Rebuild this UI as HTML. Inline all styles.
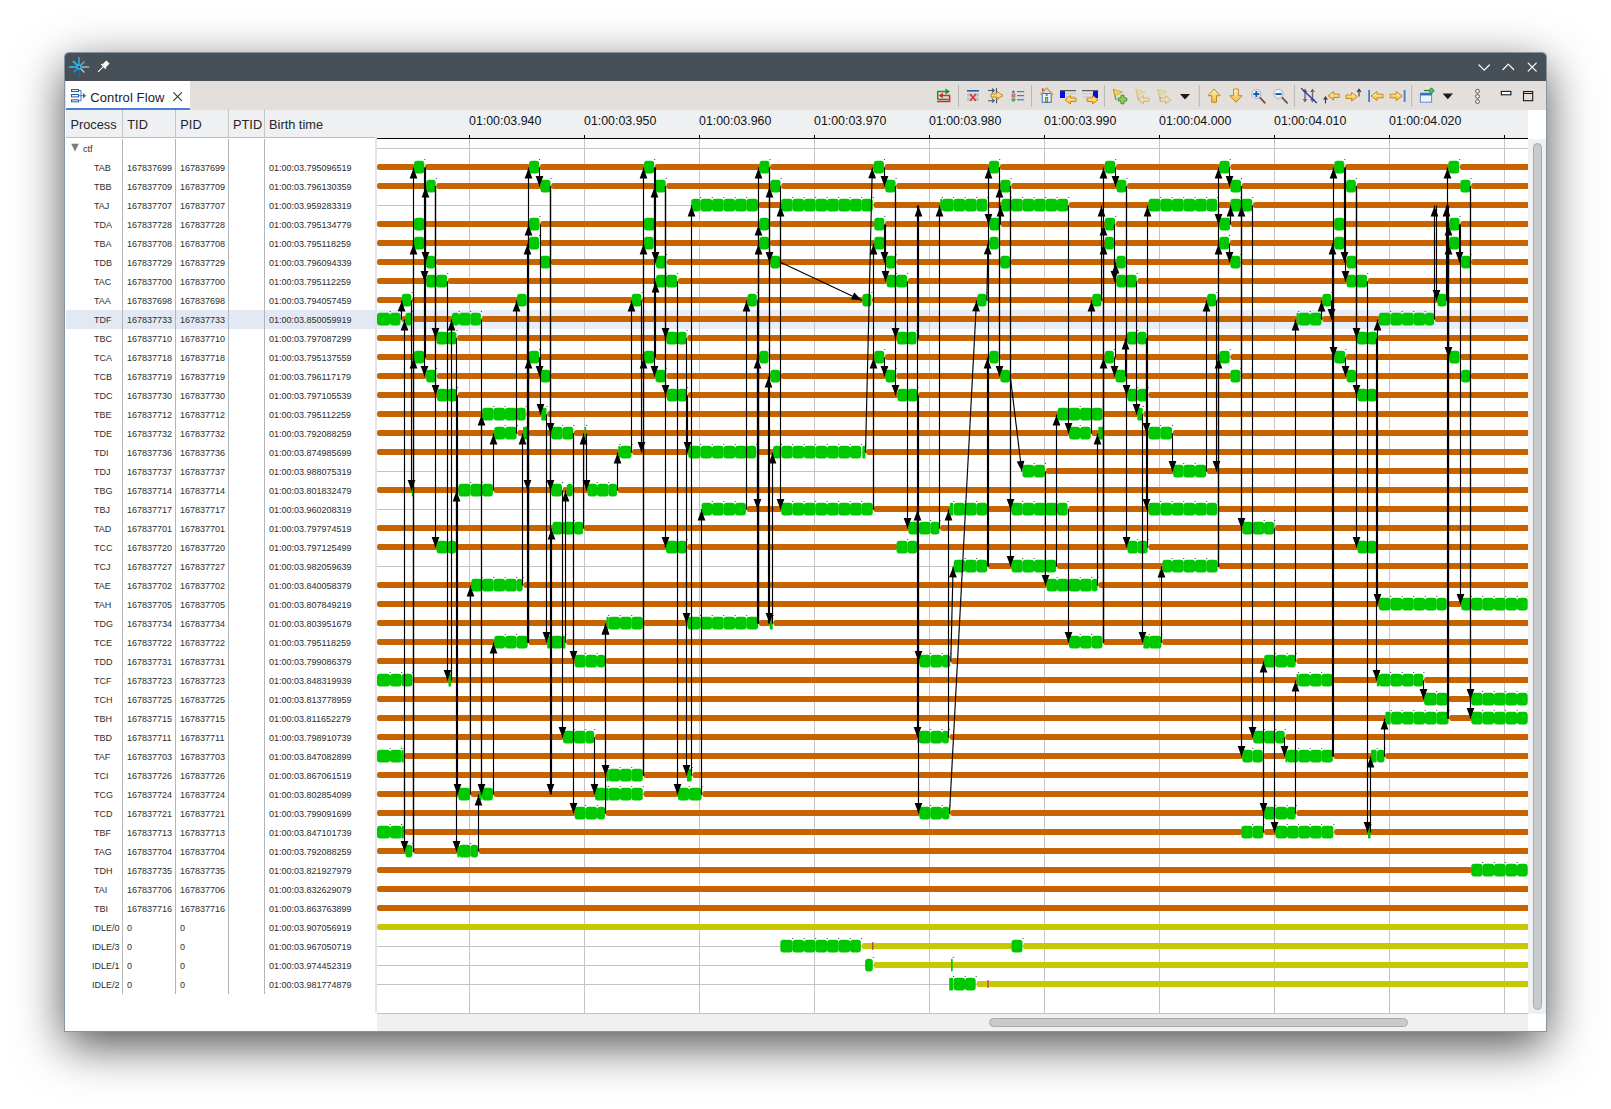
<!DOCTYPE html><html><head><meta charset="utf-8"><title>Control Flow</title><style>
*{box-sizing:border-box;margin:0;padding:0}
html,body{width:1611px;height:1109px;background:#fff;overflow:hidden;font-family:"Liberation Sans",sans-serif;}
#win{position:absolute;left:65px;top:53px;width:1481px;height:978px;background:#fff;border-radius:4px 4px 0 0;
 box-shadow:0 0 0 1px #8593a2,0 14px 48px 0 rgba(0,0,0,.7);}
#title{position:absolute;left:0;top:0;width:1481px;height:28px;background:#475057;border-radius:4px 4px 0 0}
#tabbar{position:absolute;left:0;top:28px;width:1481px;height:29px;background:#e2dfdc}
#tab{position:absolute;left:1px;top:0;width:124px;height:29px;background:#fff;border-bottom:2px solid #4a7fd8}
#tab span{position:absolute;left:24.3px;top:9px;font-size:13px;color:#202428;letter-spacing:0.1px}
#hdr{position:absolute;left:1px;top:57px;width:1462px;height:28px;background:#eff0f1;}
#hdrline{position:absolute;left:1px;top:84px;width:310px;height:1px;background:#bcbdbe}
.hc{position:absolute;top:7px;font-size:12.8px;color:#232629}
.hs{position:absolute;top:0;width:1px;height:28px;background:#c4c5c6}
.ts{position:absolute;top:3px;font-size:12.4px;color:#111}
.cs{position:absolute;top:86px;width:1px;height:855px;background:#b4b5b6}
.r{position:absolute;left:1px;width:309px;height:19px;font-size:9px;line-height:19px;color:#2a2d30;white-space:nowrap}
.r span{position:absolute;top:0px}
#sash{position:absolute;left:309.5px;top:84px;width:2.5px;height:876px;background:#e4e4e4}
#chart{position:absolute;left:0;top:0}
</style></head><body>
<div id="win">
<div id="title"></div>
<div id="tabbar"><div id="tab"><span>Control Flow</span></div></div>
<div id="hdr">
<span class="hc" style="left:4.4px">Process</span>
<span class="hc" style="left:61.3px">TID</span>
<span class="hc" style="left:114.3px">PID</span>
<span class="hc" style="left:167px">PTID</span>
<span class="hc" style="left:203px">Birth time</span>
<i class="hs" style="left:56px"></i>
<i class="hs" style="left:109px"></i>
<i class="hs" style="left:162px"></i>
<i class="hs" style="left:198px"></i>
</div><div id="hdrline"></div>
<div style="position:absolute;left:1px;top:257px;width:309px;height:19px;background:#e3e9f4"></div>
<i class="cs" style="left:57px"></i>
<i class="cs" style="left:110px"></i>
<i class="cs" style="left:163px"></i>
<i class="cs" style="left:199px"></i>
<div class="r" style="top:87.3px"><span style="left:17px">ctf</span></div>
<div class="r" style="top:105.5px"><span style="left:28px">TAB</span><span style="left:61px">167837699</span><span style="left:114px">167837699</span><span style="left:203px">01:00:03.795096519</span></div>
<div class="r" style="top:124.5px"><span style="left:28px">TBB</span><span style="left:61px">167837709</span><span style="left:114px">167837709</span><span style="left:203px">01:00:03.796130359</span></div>
<div class="r" style="top:143.5px"><span style="left:28px">TAJ</span><span style="left:61px">167837707</span><span style="left:114px">167837707</span><span style="left:203px">01:00:03.959283319</span></div>
<div class="r" style="top:162.5px"><span style="left:28px">TDA</span><span style="left:61px">167837728</span><span style="left:114px">167837728</span><span style="left:203px">01:00:03.795134779</span></div>
<div class="r" style="top:181.5px"><span style="left:28px">TBA</span><span style="left:61px">167837708</span><span style="left:114px">167837708</span><span style="left:203px">01:00:03.795118259</span></div>
<div class="r" style="top:200.5px"><span style="left:28px">TDB</span><span style="left:61px">167837729</span><span style="left:114px">167837729</span><span style="left:203px">01:00:03.796094339</span></div>
<div class="r" style="top:219.5px"><span style="left:28px">TAC</span><span style="left:61px">167837700</span><span style="left:114px">167837700</span><span style="left:203px">01:00:03.795112259</span></div>
<div class="r" style="top:238.5px"><span style="left:28px">TAA</span><span style="left:61px">167837698</span><span style="left:114px">167837698</span><span style="left:203px">01:00:03.794057459</span></div>
<div class="r" style="top:257.5px"><span style="left:28px">TDF</span><span style="left:61px">167837733</span><span style="left:114px">167837733</span><span style="left:203px">01:00:03.850059919</span></div>
<div class="r" style="top:276.5px"><span style="left:28px">TBC</span><span style="left:61px">167837710</span><span style="left:114px">167837710</span><span style="left:203px">01:00:03.797087299</span></div>
<div class="r" style="top:295.5px"><span style="left:28px">TCA</span><span style="left:61px">167837718</span><span style="left:114px">167837718</span><span style="left:203px">01:00:03.795137559</span></div>
<div class="r" style="top:314.5px"><span style="left:28px">TCB</span><span style="left:61px">167837719</span><span style="left:114px">167837719</span><span style="left:203px">01:00:03.796117179</span></div>
<div class="r" style="top:333.5px"><span style="left:28px">TDC</span><span style="left:61px">167837730</span><span style="left:114px">167837730</span><span style="left:203px">01:00:03.797105539</span></div>
<div class="r" style="top:352.5px"><span style="left:28px">TBE</span><span style="left:61px">167837712</span><span style="left:114px">167837712</span><span style="left:203px">01:00:03.795112259</span></div>
<div class="r" style="top:371.5px"><span style="left:28px">TDE</span><span style="left:61px">167837732</span><span style="left:114px">167837732</span><span style="left:203px">01:00:03.792088259</span></div>
<div class="r" style="top:390.5px"><span style="left:28px">TDI</span><span style="left:61px">167837736</span><span style="left:114px">167837736</span><span style="left:203px">01:00:03.874985699</span></div>
<div class="r" style="top:409.5px"><span style="left:28px">TDJ</span><span style="left:61px">167837737</span><span style="left:114px">167837737</span><span style="left:203px">01:00:03.988075319</span></div>
<div class="r" style="top:428.5px"><span style="left:28px">TBG</span><span style="left:61px">167837714</span><span style="left:114px">167837714</span><span style="left:203px">01:00:03.801832479</span></div>
<div class="r" style="top:447.5px"><span style="left:28px">TBJ</span><span style="left:61px">167837717</span><span style="left:114px">167837717</span><span style="left:203px">01:00:03.960208319</span></div>
<div class="r" style="top:466.5px"><span style="left:28px">TAD</span><span style="left:61px">167837701</span><span style="left:114px">167837701</span><span style="left:203px">01:00:03.797974519</span></div>
<div class="r" style="top:485.5px"><span style="left:28px">TCC</span><span style="left:61px">167837720</span><span style="left:114px">167837720</span><span style="left:203px">01:00:03.797125499</span></div>
<div class="r" style="top:504.5px"><span style="left:28px">TCJ</span><span style="left:61px">167837727</span><span style="left:114px">167837727</span><span style="left:203px">01:00:03.982059639</span></div>
<div class="r" style="top:523.5px"><span style="left:28px">TAE</span><span style="left:61px">167837702</span><span style="left:114px">167837702</span><span style="left:203px">01:00:03.840058379</span></div>
<div class="r" style="top:542.5px"><span style="left:28px">TAH</span><span style="left:61px">167837705</span><span style="left:114px">167837705</span><span style="left:203px">01:00:03.807849219</span></div>
<div class="r" style="top:561.5px"><span style="left:28px">TDG</span><span style="left:61px">167837734</span><span style="left:114px">167837734</span><span style="left:203px">01:00:03.803951679</span></div>
<div class="r" style="top:580.5px"><span style="left:28px">TCE</span><span style="left:61px">167837722</span><span style="left:114px">167837722</span><span style="left:203px">01:00:03.795118259</span></div>
<div class="r" style="top:599.5px"><span style="left:28px">TDD</span><span style="left:61px">167837731</span><span style="left:114px">167837731</span><span style="left:203px">01:00:03.799086379</span></div>
<div class="r" style="top:618.5px"><span style="left:28px">TCF</span><span style="left:61px">167837723</span><span style="left:114px">167837723</span><span style="left:203px">01:00:03.848319939</span></div>
<div class="r" style="top:637.5px"><span style="left:28px">TCH</span><span style="left:61px">167837725</span><span style="left:114px">167837725</span><span style="left:203px">01:00:03.813778959</span></div>
<div class="r" style="top:656.5px"><span style="left:28px">TBH</span><span style="left:61px">167837715</span><span style="left:114px">167837715</span><span style="left:203px">01:00:03.811652279</span></div>
<div class="r" style="top:675.5px"><span style="left:28px">TBD</span><span style="left:61px">167837711</span><span style="left:114px">167837711</span><span style="left:203px">01:00:03.798910739</span></div>
<div class="r" style="top:694.5px"><span style="left:28px">TAF</span><span style="left:61px">167837703</span><span style="left:114px">167837703</span><span style="left:203px">01:00:03.847082899</span></div>
<div class="r" style="top:713.5px"><span style="left:28px">TCI</span><span style="left:61px">167837726</span><span style="left:114px">167837726</span><span style="left:203px">01:00:03.867061519</span></div>
<div class="r" style="top:732.5px"><span style="left:28px">TCG</span><span style="left:61px">167837724</span><span style="left:114px">167837724</span><span style="left:203px">01:00:03.802854099</span></div>
<div class="r" style="top:751.5px"><span style="left:28px">TCD</span><span style="left:61px">167837721</span><span style="left:114px">167837721</span><span style="left:203px">01:00:03.799091699</span></div>
<div class="r" style="top:770.5px"><span style="left:28px">TBF</span><span style="left:61px">167837713</span><span style="left:114px">167837713</span><span style="left:203px">01:00:03.847101739</span></div>
<div class="r" style="top:789.5px"><span style="left:28px">TAG</span><span style="left:61px">167837704</span><span style="left:114px">167837704</span><span style="left:203px">01:00:03.792088259</span></div>
<div class="r" style="top:808.5px"><span style="left:28px">TDH</span><span style="left:61px">167837735</span><span style="left:114px">167837735</span><span style="left:203px">01:00:03.821927979</span></div>
<div class="r" style="top:827.5px"><span style="left:28px">TAI</span><span style="left:61px">167837706</span><span style="left:114px">167837706</span><span style="left:203px">01:00:03.832629079</span></div>
<div class="r" style="top:846.5px"><span style="left:28px">TBI</span><span style="left:61px">167837716</span><span style="left:114px">167837716</span><span style="left:203px">01:00:03.863763899</span></div>
<div class="r" style="top:865.5px"><span style="left:26px">IDLE/0</span><span style="left:61px">0</span><span style="left:114px">0</span><span style="left:203px">01:00:03.907056919</span></div>
<div class="r" style="top:884.5px"><span style="left:26px">IDLE/3</span><span style="left:61px">0</span><span style="left:114px">0</span><span style="left:203px">01:00:03.967050719</span></div>
<div class="r" style="top:903.5px"><span style="left:26px">IDLE/1</span><span style="left:61px">0</span><span style="left:114px">0</span><span style="left:203px">01:00:03.974452319</span></div>
<div class="r" style="top:922.5px"><span style="left:26px">IDLE/2</span><span style="left:61px">0</span><span style="left:114px">0</span><span style="left:203px">01:00:03.981774879</span></div>
<div id="sash"></div>
</div>
<svg id="chart" width="1611" height="1109" viewBox="0 0 1611 1109" style="font-family:'Liberation Sans',sans-serif">
<defs><clipPath id="cc"><rect x="377" y="139" width="1151" height="875"/></clipPath></defs>
<rect x="377" y="310" width="1151" height="19" fill="#e7eefa"/>
<g fill="#c4c4c4">
<rect x="469" y="139" width="1" height="875"/>
<rect x="584" y="139" width="1" height="875"/>
<rect x="699" y="139" width="1" height="875"/>
<rect x="814" y="139" width="1" height="875"/>
<rect x="929" y="139" width="1" height="875"/>
<rect x="1044" y="139" width="1" height="875"/>
<rect x="1159" y="139" width="1" height="875"/>
<rect x="1274" y="139" width="1" height="875"/>
<rect x="1389" y="139" width="1" height="875"/>
<rect x="1504" y="139" width="1" height="875"/>
<rect x="377" y="148" width="1151" height="1"/>
<rect x="377" y="167" width="1151" height="1"/>
<rect x="377" y="186" width="1151" height="1"/>
<rect x="377" y="205" width="1151" height="1"/>
<rect x="377" y="224" width="1151" height="1"/>
<rect x="377" y="243" width="1151" height="1"/>
<rect x="377" y="262" width="1151" height="1"/>
<rect x="377" y="281" width="1151" height="1"/>
<rect x="377" y="300" width="1151" height="1"/>
<rect x="377" y="319" width="1151" height="1"/>
<rect x="377" y="338" width="1151" height="1"/>
<rect x="377" y="357" width="1151" height="1"/>
<rect x="377" y="376" width="1151" height="1"/>
<rect x="377" y="395" width="1151" height="1"/>
<rect x="377" y="414" width="1151" height="1"/>
<rect x="377" y="433" width="1151" height="1"/>
<rect x="377" y="452" width="1151" height="1"/>
<rect x="377" y="471" width="1151" height="1"/>
<rect x="377" y="490" width="1151" height="1"/>
<rect x="377" y="509" width="1151" height="1"/>
<rect x="377" y="528" width="1151" height="1"/>
<rect x="377" y="547" width="1151" height="1"/>
<rect x="377" y="566" width="1151" height="1"/>
<rect x="377" y="585" width="1151" height="1"/>
<rect x="377" y="604" width="1151" height="1"/>
<rect x="377" y="623" width="1151" height="1"/>
<rect x="377" y="642" width="1151" height="1"/>
<rect x="377" y="661" width="1151" height="1"/>
<rect x="377" y="680" width="1151" height="1"/>
<rect x="377" y="699" width="1151" height="1"/>
<rect x="377" y="718" width="1151" height="1"/>
<rect x="377" y="737" width="1151" height="1"/>
<rect x="377" y="756" width="1151" height="1"/>
<rect x="377" y="775" width="1151" height="1"/>
<rect x="377" y="794" width="1151" height="1"/>
<rect x="377" y="813" width="1151" height="1"/>
<rect x="377" y="832" width="1151" height="1"/>
<rect x="377" y="851" width="1151" height="1"/>
<rect x="377" y="870" width="1151" height="1"/>
<rect x="377" y="889" width="1151" height="1"/>
<rect x="377" y="908" width="1151" height="1"/>
<rect x="377" y="927" width="1151" height="1"/>
<rect x="377" y="946" width="1151" height="1"/>
<rect x="377" y="965" width="1151" height="1"/>
<rect x="377" y="984" width="1151" height="1"/>
</g>
<text x="469" y="125" font-size="12.4" fill="#111">01:00:03.940</text>
<text x="584" y="125" font-size="12.4" fill="#111">01:00:03.950</text>
<text x="699" y="125" font-size="12.4" fill="#111">01:00:03.960</text>
<text x="814" y="125" font-size="12.4" fill="#111">01:00:03.970</text>
<text x="929" y="125" font-size="12.4" fill="#111">01:00:03.980</text>
<text x="1044" y="125" font-size="12.4" fill="#111">01:00:03.990</text>
<text x="1159" y="125" font-size="12.4" fill="#111">01:00:04.000</text>
<text x="1274" y="125" font-size="12.4" fill="#111">01:00:04.010</text>
<text x="1389" y="125" font-size="12.4" fill="#111">01:00:04.020</text>
<g fill="#000">
<rect x="469" y="135" width="1" height="3"/>
<rect x="584" y="135" width="1" height="3"/>
<rect x="699" y="135" width="1" height="3"/>
<rect x="814" y="135" width="1" height="3"/>
<rect x="929" y="135" width="1" height="3"/>
<rect x="1044" y="135" width="1" height="3"/>
<rect x="1159" y="135" width="1" height="3"/>
<rect x="1274" y="135" width="1" height="3"/>
<rect x="1389" y="135" width="1" height="3"/>
<rect x="1504" y="135" width="1" height="3"/>
<rect x="377" y="138" width="1151" height="1"/></g>
<g clip-path="url(#cc)">
<g fill="#c86400">
<rect x="377" y="164" width="38" height="6" rx="2.2"/>
<rect x="425" y="164" width="105" height="6" rx="2.2"/>
<rect x="539.8" y="164" width="105.2" height="6" rx="2.2"/>
<rect x="654.9" y="164" width="105.6" height="6" rx="2.2"/>
<rect x="770.2" y="164" width="104.5" height="6" rx="2.2"/>
<rect x="884.6" y="164" width="105.3" height="6" rx="2.2"/>
<rect x="999.9" y="164" width="105.9" height="6" rx="2.2"/>
<rect x="1115.9" y="164" width="104.5" height="6" rx="2.2"/>
<rect x="1230.4" y="164" width="104.9" height="6" rx="2.2"/>
<rect x="1345" y="164" width="104.3" height="6" rx="2.2"/>
<rect x="1459.9" y="164" width="72.1" height="6" rx="2.2"/>
</g>
<g fill="#c86400">
<rect x="377" y="183" width="50.2" height="6" rx="2.2"/>
<rect x="436.4" y="183" width="105" height="6" rx="2.2"/>
<rect x="551.2" y="183" width="104.8" height="6" rx="2.2"/>
<rect x="666.4" y="183" width="105" height="6" rx="2.2"/>
<rect x="781.3" y="183" width="104.9" height="6" rx="2.2"/>
<rect x="896.3" y="183" width="105" height="6" rx="2.2"/>
<rect x="1011.3" y="183" width="106.2" height="6" rx="2.2"/>
<rect x="1127.1" y="183" width="104.3" height="6" rx="2.2"/>
<rect x="1241.7" y="183" width="105.5" height="6" rx="2.2"/>
<rect x="1356.6" y="183" width="104.7" height="6" rx="2.2"/>
<rect x="1471.2" y="183" width="60.8" height="6" rx="2.2"/>
</g>
<g fill="#c86400">
<rect x="758.5" y="202" width="23.7" height="6" rx="2.2"/>
<rect x="873.5" y="202" width="67.7" height="6" rx="2.2"/>
<rect x="987.9" y="202" width="14.6" height="6" rx="2.2"/>
<rect x="1068.9" y="202" width="80.6" height="6" rx="2.2"/>
<rect x="1217.9" y="202" width="13.5" height="6" rx="2.2"/>
<rect x="1253" y="202" width="279" height="6" rx="2.2"/>
</g>
<g fill="#c86400">
<rect x="377" y="221" width="38" height="6" rx="2.2"/>
<rect x="425" y="221" width="105" height="6" rx="2.2"/>
<rect x="540.2" y="221" width="104.8" height="6" rx="2.2"/>
<rect x="655.4" y="221" width="105.1" height="6" rx="2.2"/>
<rect x="769.8" y="221" width="105.5" height="6" rx="2.2"/>
<rect x="885" y="221" width="105.5" height="6" rx="2.2"/>
<rect x="1000.7" y="221" width="105.1" height="6" rx="2.2"/>
<rect x="1115.9" y="221" width="104.5" height="6" rx="2.2"/>
<rect x="1230.8" y="221" width="104.5" height="6" rx="2.2"/>
<rect x="1345" y="221" width="105.3" height="6" rx="2.2"/>
<rect x="1460.3" y="221" width="71.7" height="6" rx="2.2"/>
</g>
<g fill="#c86400">
<rect x="377" y="240" width="38" height="6" rx="2.2"/>
<rect x="425" y="240" width="105" height="6" rx="2.2"/>
<rect x="539.8" y="240" width="105.2" height="6" rx="2.2"/>
<rect x="654.4" y="240" width="106.1" height="6" rx="2.2"/>
<rect x="769.8" y="240" width="105.5" height="6" rx="2.2"/>
<rect x="885" y="240" width="105.5" height="6" rx="2.2"/>
<rect x="999.4" y="240" width="106.4" height="6" rx="2.2"/>
<rect x="1114.6" y="240" width="105.8" height="6" rx="2.2"/>
<rect x="1229.8" y="240" width="105.5" height="6" rx="2.2"/>
<rect x="1345" y="240" width="105.3" height="6" rx="2.2"/>
<rect x="1459.9" y="240" width="72.1" height="6" rx="2.2"/>
</g>
<g fill="#c86400">
<rect x="377" y="259" width="50.2" height="6" rx="2.2"/>
<rect x="435.9" y="259" width="105.5" height="6" rx="2.2"/>
<rect x="550.8" y="259" width="106.2" height="6" rx="2.2"/>
<rect x="666.8" y="259" width="104.6" height="6" rx="2.2"/>
<rect x="780.7" y="259" width="106.5" height="6" rx="2.2"/>
<rect x="896.3" y="259" width="105" height="6" rx="2.2"/>
<rect x="1010.7" y="259" width="106.8" height="6" rx="2.2"/>
<rect x="1126.4" y="259" width="105" height="6" rx="2.2"/>
<rect x="1241.1" y="259" width="106.5" height="6" rx="2.2"/>
<rect x="1357" y="259" width="105.2" height="6" rx="2.2"/>
<rect x="1471.2" y="259" width="60.8" height="6" rx="2.2"/>
</g>
<g fill="#c86400">
<rect x="377" y="278" width="50.2" height="6" rx="2.2"/>
<rect x="447.9" y="278" width="209.1" height="6" rx="2.2"/>
<rect x="677.9" y="278" width="209.7" height="6" rx="2.2"/>
<rect x="907.9" y="278" width="209.6" height="6" rx="2.2"/>
<rect x="1137.4" y="278" width="210.2" height="6" rx="2.2"/>
<rect x="1367.9" y="278" width="164.1" height="6" rx="2.2"/>
</g>
<g fill="#c86400">
<rect x="377" y="297" width="25.8" height="6" rx="2.2"/>
<rect x="412.1" y="297" width="105.9" height="6" rx="2.2"/>
<rect x="527.4" y="297" width="105.4" height="6" rx="2.2"/>
<rect x="642.2" y="297" width="106.3" height="6" rx="2.2"/>
<rect x="757.5" y="297" width="105.9" height="6" rx="2.2"/>
<rect x="872.1" y="297" width="106.3" height="6" rx="2.2"/>
<rect x="987.3" y="297" width="106" height="6" rx="2.2"/>
<rect x="1102.2" y="297" width="105.9" height="6" rx="2.2"/>
<rect x="1216.9" y="297" width="106.5" height="6" rx="2.2"/>
<rect x="1332.1" y="297" width="106.3" height="6" rx="2.2"/>
<rect x="1447.3" y="297" width="84.7" height="6" rx="2.2"/>
</g>
<g fill="#c86400">
<rect x="401.2" y="316" width="5.2" height="6" rx="2.2"/>
<rect x="413.1" y="316" width="39.7" height="6" rx="2.2"/>
<rect x="481.6" y="316" width="816" height="6" rx="2.2"/>
<rect x="1322.2" y="316" width="57.6" height="6" rx="2.2"/>
<rect x="1434.8" y="316" width="97.2" height="6" rx="2.2"/>
</g>
<g fill="#c86400">
<rect x="377" y="335" width="60.5" height="6" rx="2.2"/>
<rect x="457.2" y="335" width="210.2" height="6" rx="2.2"/>
<rect x="687.3" y="335" width="210.8" height="6" rx="2.2"/>
<rect x="917.2" y="335" width="210.9" height="6" rx="2.2"/>
<rect x="1147.3" y="335" width="210.7" height="6" rx="2.2"/>
<rect x="1377.8" y="335" width="154.2" height="6" rx="2.2"/>
</g>
<g fill="#c86400">
<rect x="377" y="354" width="38" height="6" rx="2.2"/>
<rect x="425" y="354" width="105" height="6" rx="2.2"/>
<rect x="539.8" y="354" width="105.2" height="6" rx="2.2"/>
<rect x="654.9" y="354" width="105.6" height="6" rx="2.2"/>
<rect x="769.2" y="354" width="106.1" height="6" rx="2.2"/>
<rect x="885" y="354" width="105.5" height="6" rx="2.2"/>
<rect x="999.4" y="354" width="106.4" height="6" rx="2.2"/>
<rect x="1114.6" y="354" width="105.8" height="6" rx="2.2"/>
<rect x="1230.4" y="354" width="104.9" height="6" rx="2.2"/>
<rect x="1346" y="354" width="104.3" height="6" rx="2.2"/>
<rect x="1460.3" y="354" width="71.7" height="6" rx="2.2"/>
</g>
<g fill="#c86400">
<rect x="377" y="373" width="50.2" height="6" rx="2.2"/>
<rect x="436.9" y="373" width="104.5" height="6" rx="2.2"/>
<rect x="550.8" y="373" width="105.7" height="6" rx="2.2"/>
<rect x="666.4" y="373" width="105" height="6" rx="2.2"/>
<rect x="780.7" y="373" width="105.9" height="6" rx="2.2"/>
<rect x="896.3" y="373" width="105" height="6" rx="2.2"/>
<rect x="1010.7" y="373" width="105.8" height="6" rx="2.2"/>
<rect x="1126.4" y="373" width="105" height="6" rx="2.2"/>
<rect x="1241.1" y="373" width="106.5" height="6" rx="2.2"/>
<rect x="1356.6" y="373" width="105.6" height="6" rx="2.2"/>
<rect x="1470.8" y="373" width="61.2" height="6" rx="2.2"/>
</g>
<g fill="#c86400">
<rect x="377" y="392" width="61.1" height="6" rx="2.2"/>
<rect x="457.8" y="392" width="210.2" height="6" rx="2.2"/>
<rect x="687.9" y="392" width="210.6" height="6" rx="2.2"/>
<rect x="918.2" y="392" width="210.3" height="6" rx="2.2"/>
<rect x="1148.4" y="392" width="210.1" height="6" rx="2.2"/>
<rect x="1377.2" y="392" width="154.8" height="6" rx="2.2"/>
</g>
<g fill="#c86400">
<rect x="377" y="411" width="106.2" height="6" rx="2.2"/>
<rect x="526.4" y="411" width="15.8" height="6" rx="2.2"/>
<rect x="547.2" y="411" width="511.3" height="6" rx="2.2"/>
<rect x="1103.2" y="411" width="35.2" height="6" rx="2.2"/>
<rect x="1143.4" y="411" width="388.6" height="6" rx="2.2"/>
</g>
<g fill="#c86400">
<rect x="377" y="430" width="118.2" height="6" rx="2.2"/>
<rect x="517.4" y="430" width="6.6" height="6" rx="2.2"/>
<rect x="528.4" y="430" width="23.8" height="6" rx="2.2"/>
<rect x="574" y="430" width="496" height="6" rx="2.2"/>
<rect x="1091.4" y="430" width="7.9" height="6" rx="2.2"/>
<rect x="1103.6" y="430" width="45.9" height="6" rx="2.2"/>
<rect x="1172.8" y="430" width="359.2" height="6" rx="2.2"/>
</g>
<g fill="#c86400">
<rect x="377" y="449" width="242.3" height="6" rx="2.2"/>
<rect x="632.2" y="449" width="57.1" height="6" rx="2.2"/>
<rect x="756.9" y="449" width="17.1" height="6" rx="2.2"/>
<rect x="866.1" y="449" width="665.9" height="6" rx="2.2"/>
</g>
<g fill="#c86400">
<rect x="1045.8" y="468" width="128.4" height="6" rx="2.2"/>
<rect x="1206.9" y="468" width="325.1" height="6" rx="2.2"/>
</g>
<g fill="#c86400">
<rect x="377" y="487" width="82.4" height="6" rx="2.2"/>
<rect x="493.6" y="487" width="58.6" height="6" rx="2.2"/>
<rect x="562.7" y="487" width="5" height="6" rx="2.2"/>
<rect x="573.4" y="487" width="15.1" height="6" rx="2.2"/>
<rect x="617.7" y="487" width="914.3" height="6" rx="2.2"/>
</g>
<g fill="#c86400">
<rect x="746.8" y="506" width="35.5" height="6" rx="2.2"/>
<rect x="873.5" y="506" width="77.3" height="6" rx="2.2"/>
<rect x="987.9" y="506" width="24.6" height="6" rx="2.2"/>
<rect x="1068.3" y="506" width="81.2" height="6" rx="2.2"/>
<rect x="1217.9" y="506" width="314.1" height="6" rx="2.2"/>
</g>
<g fill="#c86400">
<rect x="377" y="525" width="176.4" height="6" rx="2.2"/>
<rect x="583.9" y="525" width="325.5" height="6" rx="2.2"/>
<rect x="940.2" y="525" width="303.1" height="6" rx="2.2"/>
<rect x="1274.9" y="525" width="257.1" height="6" rx="2.2"/>
</g>
<g fill="#c86400">
<rect x="377" y="544" width="60.5" height="6" rx="2.2"/>
<rect x="456.8" y="544" width="210.2" height="6" rx="2.2"/>
<rect x="687.3" y="544" width="210.2" height="6" rx="2.2"/>
<rect x="917.8" y="544" width="210.7" height="6" rx="2.2"/>
<rect x="1148.4" y="544" width="210.1" height="6" rx="2.2"/>
<rect x="1377.2" y="544" width="154.8" height="6" rx="2.2"/>
</g>
<g fill="#c86400">
<rect x="988" y="563" width="24.5" height="6" rx="2.2"/>
<rect x="1056.9" y="563" width="106.5" height="6" rx="2.2"/>
<rect x="1218.4" y="563" width="313.6" height="6" rx="2.2"/>
</g>
<g fill="#c86400">
<rect x="377" y="582" width="95.3" height="6" rx="2.2"/>
<rect x="523.4" y="582" width="524.2" height="6" rx="2.2"/>
<rect x="1098.3" y="582" width="433.7" height="6" rx="2.2"/>
</g>
<g fill="#c86400">
<rect x="377" y="601" width="1002.8" height="6" rx="2.2"/>
<rect x="1447.4" y="601" width="14.8" height="6" rx="2.2"/>
</g>
<g fill="#c86400">
<rect x="377" y="620" width="230.4" height="6" rx="2.2"/>
<rect x="643.5" y="620" width="45" height="6" rx="2.2"/>
<rect x="758.9" y="620" width="11.9" height="6" rx="2.2"/>
<rect x="773.4" y="620" width="758.6" height="6" rx="2.2"/>
</g>
<g fill="#c86400">
<rect x="377" y="639" width="118.2" height="6" rx="2.2"/>
<rect x="528.4" y="639" width="19.8" height="6" rx="2.2"/>
<rect x="566.1" y="639" width="503.9" height="6" rx="2.2"/>
<rect x="1103.2" y="639" width="41.2" height="6" rx="2.2"/>
<rect x="1162.2" y="639" width="369.8" height="6" rx="2.2"/>
</g>
<g fill="#c86400">
<rect x="377" y="658" width="198.6" height="6" rx="2.2"/>
<rect x="605.8" y="658" width="314.6" height="6" rx="2.2"/>
<rect x="951" y="658" width="314.1" height="6" rx="2.2"/>
<rect x="1296.4" y="658" width="235.6" height="6" rx="2.2"/>
</g>
<g fill="#c86400">
<rect x="413.1" y="677" width="884.5" height="6" rx="2.2"/>
<rect x="1333.1" y="677" width="44.7" height="6" rx="2.2"/>
<rect x="1424.1" y="677" width="107.9" height="6" rx="2.2"/>
</g>
<g fill="#c86400">
<rect x="377" y="696" width="1048.1" height="6" rx="2.2"/>
<rect x="1448.3" y="696" width="23.9" height="6" rx="2.2"/>
</g>
<g fill="#c86400">
<rect x="377" y="715" width="1009.4" height="6" rx="2.2"/>
<rect x="1449.3" y="715" width="22.9" height="6" rx="2.2"/>
</g>
<g fill="#c86400">
<rect x="377" y="734" width="187" height="6" rx="2.2"/>
<rect x="594.9" y="734" width="323.5" height="6" rx="2.2"/>
<rect x="949.6" y="734" width="304.6" height="6" rx="2.2"/>
<rect x="1285.4" y="734" width="246.6" height="6" rx="2.2"/>
</g>
<g fill="#c86400">
<rect x="404.4" y="753" width="838.9" height="6" rx="2.2"/>
<rect x="1263.5" y="753" width="22.9" height="6" rx="2.2"/>
<rect x="1333.5" y="753" width="38.5" height="6" rx="2.2"/>
<rect x="1385.2" y="753" width="146.8" height="6" rx="2.2"/>
</g>
<g fill="#c86400">
<rect x="377" y="772" width="230.4" height="6" rx="2.2"/>
<rect x="643.5" y="772" width="44.5" height="6" rx="2.2"/>
<rect x="692.4" y="772" width="839.6" height="6" rx="2.2"/>
</g>
<g fill="#c86400">
<rect x="377" y="791" width="82.4" height="6" rx="2.2"/>
<rect x="470.7" y="791" width="12.3" height="6" rx="2.2"/>
<rect x="493.6" y="791" width="102.3" height="6" rx="2.2"/>
<rect x="643.5" y="791" width="35.4" height="6" rx="2.2"/>
<rect x="702.3" y="791" width="829.7" height="6" rx="2.2"/>
</g>
<g fill="#c86400">
<rect x="377" y="810" width="198.6" height="6" rx="2.2"/>
<rect x="605.8" y="810" width="314.6" height="6" rx="2.2"/>
<rect x="950.2" y="810" width="314.9" height="6" rx="2.2"/>
<rect x="1296.4" y="810" width="235.6" height="6" rx="2.2"/>
</g>
<g fill="#c86400">
<rect x="404.6" y="829" width="837.7" height="6" rx="2.2"/>
<rect x="1264.1" y="829" width="12.4" height="6" rx="2.2"/>
<rect x="1334.1" y="829" width="197.9" height="6" rx="2.2"/>
</g>
<g fill="#c86400">
<rect x="377" y="848" width="29.4" height="6" rx="2.2"/>
<rect x="413.1" y="848" width="45.3" height="6" rx="2.2"/>
<rect x="478.7" y="848" width="1053.3" height="6" rx="2.2"/>
</g>
<g fill="#c86400">
<rect x="377" y="867" width="1095.2" height="6" rx="2.2"/>
</g>
<g fill="#c86400">
<rect x="377" y="886" width="1155" height="6" rx="2.2"/>
</g>
<g fill="#c86400">
<rect x="377" y="905" width="1155" height="6" rx="2.2"/>
</g>
<g fill="#c8c800">
<rect x="377" y="924" width="1155" height="6" rx="2.2"/>
</g>
<g fill="#c8c800">
<rect x="861.8" y="943" width="150.7" height="6" rx="2.2"/>
<rect x="1023.2" y="943" width="508.8" height="6" rx="2.2"/>
</g>
<g fill="#c8c800">
<rect x="873.7" y="962" width="658.3" height="6" rx="2.2"/>
</g>
<g fill="#c8c800">
<rect x="976.6" y="981" width="555.4" height="6" rx="2.2"/>
</g>
<g fill="#00c800">
<rect x="414" y="160.8" width="10.3" height="12.8" rx="3"/>
<rect x="529" y="160.8" width="10.1" height="12.8" rx="3"/>
<rect x="644" y="160.8" width="10.2" height="12.8" rx="3"/>
<rect x="759.5" y="160.8" width="10" height="12.8" rx="3"/>
<rect x="873.7" y="160.8" width="10.2" height="12.8" rx="3"/>
<rect x="988.9" y="160.8" width="10.3" height="12.8" rx="3"/>
<rect x="1104.8" y="160.8" width="10.4" height="12.8" rx="3"/>
<rect x="1219.4" y="160.8" width="10.3" height="12.8" rx="3"/>
<rect x="1334.3" y="160.8" width="10" height="12.8" rx="3"/>
<rect x="1448.3" y="160.8" width="10.9" height="12.8" rx="3"/>
<rect x="426.2" y="179.8" width="9.5" height="12.8" rx="3"/>
<rect x="540.4" y="179.8" width="10.1" height="12.8" rx="3"/>
<rect x="655" y="179.8" width="10.7" height="12.8" rx="3"/>
<rect x="770.4" y="179.8" width="10.2" height="12.8" rx="3"/>
<rect x="885.2" y="179.8" width="10.4" height="12.8" rx="3"/>
<rect x="1000.3" y="179.8" width="10.3" height="12.8" rx="3"/>
<rect x="1116.5" y="179.8" width="9.9" height="12.8" rx="3"/>
<rect x="1230.4" y="179.8" width="10.6" height="12.8" rx="3"/>
<rect x="1346.2" y="179.8" width="9.7" height="12.8" rx="3"/>
<rect x="1460.3" y="179.8" width="10.2" height="12.8" rx="3"/>
<rect x="691.2" y="198.8" width="9.5" height="12.8" rx="3"/>
<rect x="700.5" y="198.8" width="11.7" height="12.8" rx="3"/>
<rect x="712" y="198.8" width="11.7" height="12.8" rx="3"/>
<rect x="723.5" y="198.8" width="11.7" height="12.8" rx="3"/>
<rect x="735" y="198.8" width="11.7" height="12.8" rx="3"/>
<rect x="746.5" y="198.8" width="11.4" height="12.8" rx="3"/>
<rect x="781.2" y="198.8" width="11.5" height="12.8" rx="3"/>
<rect x="792.5" y="198.8" width="11.7" height="12.8" rx="3"/>
<rect x="804" y="198.8" width="11.7" height="12.8" rx="3"/>
<rect x="815.5" y="198.8" width="11.7" height="12.8" rx="3"/>
<rect x="827" y="198.8" width="11.7" height="12.8" rx="3"/>
<rect x="838.5" y="198.8" width="11.7" height="12.8" rx="3"/>
<rect x="850" y="198.8" width="11.7" height="12.8" rx="3"/>
<rect x="861.5" y="198.8" width="11.3" height="12.8" rx="3"/>
<rect x="940.2" y="198.8" width="2" height="12.8" rx="0.8999999999999773"/>
<rect x="942" y="198.8" width="11.7" height="12.8" rx="3"/>
<rect x="953.5" y="198.8" width="11.7" height="12.8" rx="3"/>
<rect x="965" y="198.8" width="11.7" height="12.8" rx="3"/>
<rect x="976.5" y="198.8" width="10.7" height="12.8" rx="3"/>
<rect x="1001.5" y="198.8" width="9.7" height="12.8" rx="3"/>
<rect x="1011" y="198.8" width="11.7" height="12.8" rx="3"/>
<rect x="1022.5" y="198.8" width="11.7" height="12.8" rx="3"/>
<rect x="1034" y="198.8" width="11.7" height="12.8" rx="3"/>
<rect x="1045.5" y="198.8" width="11.7" height="12.8" rx="3"/>
<rect x="1057" y="198.8" width="11.2" height="12.8" rx="3"/>
<rect x="1148.5" y="198.8" width="12.2" height="12.8" rx="3"/>
<rect x="1160.5" y="198.8" width="11.7" height="12.8" rx="3"/>
<rect x="1172" y="198.8" width="11.7" height="12.8" rx="3"/>
<rect x="1183.5" y="198.8" width="11.7" height="12.8" rx="3"/>
<rect x="1195" y="198.8" width="11.7" height="12.8" rx="3"/>
<rect x="1206.5" y="198.8" width="10.7" height="12.8" rx="3"/>
<rect x="1230.4" y="198.8" width="10.8" height="12.8" rx="3"/>
<rect x="1241" y="198.8" width="11.3" height="12.8" rx="3"/>
<rect x="414" y="217.8" width="10.3" height="12.8" rx="3"/>
<rect x="529" y="217.8" width="10.5" height="12.8" rx="3"/>
<rect x="644" y="217.8" width="10.7" height="12.8" rx="3"/>
<rect x="759.5" y="217.8" width="9.6" height="12.8" rx="3"/>
<rect x="874.3" y="217.8" width="10" height="12.8" rx="3"/>
<rect x="989.5" y="217.8" width="10.5" height="12.8" rx="3"/>
<rect x="1104.8" y="217.8" width="10.4" height="12.8" rx="3"/>
<rect x="1219.4" y="217.8" width="10.7" height="12.8" rx="3"/>
<rect x="1334.3" y="217.8" width="10" height="12.8" rx="3"/>
<rect x="1449.3" y="217.8" width="10.3" height="12.8" rx="3"/>
<rect x="414" y="236.8" width="10.3" height="12.8" rx="3"/>
<rect x="529" y="236.8" width="10.1" height="12.8" rx="3"/>
<rect x="644" y="236.8" width="9.7" height="12.8" rx="3"/>
<rect x="759.5" y="236.8" width="9.6" height="12.8" rx="3"/>
<rect x="874.3" y="236.8" width="10" height="12.8" rx="3"/>
<rect x="989.5" y="236.8" width="9.2" height="12.8" rx="3"/>
<rect x="1104.8" y="236.8" width="9.1" height="12.8" rx="3"/>
<rect x="1219.4" y="236.8" width="9.7" height="12.8" rx="3"/>
<rect x="1334.3" y="236.8" width="10" height="12.8" rx="3"/>
<rect x="1449.3" y="236.8" width="9.9" height="12.8" rx="3"/>
<rect x="426.2" y="255.8" width="9" height="12.8" rx="3"/>
<rect x="540.4" y="255.8" width="9.7" height="12.8" rx="3"/>
<rect x="656" y="255.8" width="10.1" height="12.8" rx="3"/>
<rect x="770.4" y="255.8" width="9.6" height="12.8" rx="3"/>
<rect x="886.2" y="255.8" width="9.4" height="12.8" rx="3"/>
<rect x="1000.3" y="255.8" width="9.7" height="12.8" rx="3"/>
<rect x="1116.5" y="255.8" width="9.2" height="12.8" rx="3"/>
<rect x="1230.4" y="255.8" width="10" height="12.8" rx="3"/>
<rect x="1346.6" y="255.8" width="9.7" height="12.8" rx="3"/>
<rect x="1461.2" y="255.8" width="9.3" height="12.8" rx="3"/>
<rect x="426.2" y="274.8" width="10" height="12.8" rx="3"/>
<rect x="436" y="274.8" width="11.2" height="12.8" rx="3"/>
<rect x="656" y="274.8" width="10.2" height="12.8" rx="3"/>
<rect x="666" y="274.8" width="11.2" height="12.8" rx="3"/>
<rect x="886.6" y="274.8" width="9.6" height="12.8" rx="3"/>
<rect x="896" y="274.8" width="11.2" height="12.8" rx="3"/>
<rect x="1116.5" y="274.8" width="9.7" height="12.8" rx="3"/>
<rect x="1126" y="274.8" width="10.7" height="12.8" rx="3"/>
<rect x="1346.6" y="274.8" width="9.6" height="12.8" rx="3"/>
<rect x="1356" y="274.8" width="11.2" height="12.8" rx="3"/>
<rect x="401.8" y="293.8" width="9.6" height="12.8" rx="3"/>
<rect x="517" y="293.8" width="9.7" height="12.8" rx="3"/>
<rect x="631.8" y="293.8" width="9.7" height="12.8" rx="3"/>
<rect x="747.5" y="293.8" width="9.3" height="12.8" rx="3"/>
<rect x="862.4" y="293.8" width="9" height="12.8" rx="3"/>
<rect x="977.4" y="293.8" width="9.2" height="12.8" rx="3"/>
<rect x="1092.3" y="293.8" width="9.2" height="12.8" rx="3"/>
<rect x="1207.1" y="293.8" width="9.1" height="12.8" rx="3"/>
<rect x="1322.4" y="293.8" width="9" height="12.8" rx="3"/>
<rect x="1437.4" y="293.8" width="9.2" height="12.8" rx="3"/>
<rect x="377" y="312.8" width="13.2" height="12.8" rx="3"/>
<rect x="390" y="312.8" width="10.5" height="12.8" rx="3"/>
<rect x="405.4" y="312.8" width="7" height="12.8" rx="3"/>
<rect x="451.8" y="312.8" width="7.4" height="12.8" rx="3"/>
<rect x="459" y="312.8" width="11.7" height="12.8" rx="3"/>
<rect x="470.5" y="312.8" width="10.4" height="12.8" rx="3"/>
<rect x="1296.6" y="312.8" width="2.1" height="12.8" rx="0.9500000000000455"/>
<rect x="1298.5" y="312.8" width="11.7" height="12.8" rx="3"/>
<rect x="1310" y="312.8" width="11.5" height="12.8" rx="3"/>
<rect x="1378.8" y="312.8" width="11.9" height="12.8" rx="3"/>
<rect x="1390.5" y="312.8" width="11.7" height="12.8" rx="3"/>
<rect x="1402" y="312.8" width="11.7" height="12.8" rx="3"/>
<rect x="1413.5" y="312.8" width="11.7" height="12.8" rx="3"/>
<rect x="1425" y="312.8" width="9.1" height="12.8" rx="3"/>
<rect x="436.5" y="331.8" width="11.2" height="12.8" rx="3"/>
<rect x="447.5" y="331.8" width="9" height="12.8" rx="3"/>
<rect x="666.4" y="331.8" width="11.3" height="12.8" rx="3"/>
<rect x="677.5" y="331.8" width="9.1" height="12.8" rx="3"/>
<rect x="897.1" y="331.8" width="10.6" height="12.8" rx="3"/>
<rect x="907.5" y="331.8" width="9" height="12.8" rx="3"/>
<rect x="1127.1" y="331.8" width="10.6" height="12.8" rx="3"/>
<rect x="1137.5" y="331.8" width="9.1" height="12.8" rx="3"/>
<rect x="1357" y="331.8" width="10.7" height="12.8" rx="3"/>
<rect x="1367.5" y="331.8" width="9.6" height="12.8" rx="3"/>
<rect x="414" y="350.8" width="10.3" height="12.8" rx="3"/>
<rect x="529" y="350.8" width="10.1" height="12.8" rx="3"/>
<rect x="644" y="350.8" width="10.2" height="12.8" rx="3"/>
<rect x="759.5" y="350.8" width="9" height="12.8" rx="3"/>
<rect x="874.3" y="350.8" width="10" height="12.8" rx="3"/>
<rect x="989.5" y="350.8" width="9.2" height="12.8" rx="3"/>
<rect x="1104.8" y="350.8" width="9.1" height="12.8" rx="3"/>
<rect x="1219.4" y="350.8" width="10.3" height="12.8" rx="3"/>
<rect x="1334.3" y="350.8" width="11" height="12.8" rx="3"/>
<rect x="1449.3" y="350.8" width="10.3" height="12.8" rx="3"/>
<rect x="426.2" y="369.8" width="10" height="12.8" rx="3"/>
<rect x="540.4" y="369.8" width="9.7" height="12.8" rx="3"/>
<rect x="655.5" y="369.8" width="10.2" height="12.8" rx="3"/>
<rect x="770.4" y="369.8" width="9.6" height="12.8" rx="3"/>
<rect x="885.6" y="369.8" width="10" height="12.8" rx="3"/>
<rect x="1000.3" y="369.8" width="9.7" height="12.8" rx="3"/>
<rect x="1115.5" y="369.8" width="10.2" height="12.8" rx="3"/>
<rect x="1230.4" y="369.8" width="10" height="12.8" rx="3"/>
<rect x="1346.6" y="369.8" width="9.3" height="12.8" rx="3"/>
<rect x="1461.2" y="369.8" width="8.9" height="12.8" rx="3"/>
<rect x="437.1" y="388.8" width="10.6" height="12.8" rx="3"/>
<rect x="447.5" y="388.8" width="9.6" height="12.8" rx="3"/>
<rect x="667" y="388.8" width="10.7" height="12.8" rx="3"/>
<rect x="677.5" y="388.8" width="9.7" height="12.8" rx="3"/>
<rect x="897.5" y="388.8" width="10.2" height="12.8" rx="3"/>
<rect x="907.5" y="388.8" width="10" height="12.8" rx="3"/>
<rect x="1127.5" y="388.8" width="10.2" height="12.8" rx="3"/>
<rect x="1137.5" y="388.8" width="10.2" height="12.8" rx="3"/>
<rect x="1357.5" y="388.8" width="10.2" height="12.8" rx="3"/>
<rect x="1367.5" y="388.8" width="9" height="12.8" rx="3"/>
<rect x="482.2" y="407.8" width="11.5" height="12.8" rx="3"/>
<rect x="493.5" y="407.8" width="11.7" height="12.8" rx="3"/>
<rect x="505" y="407.8" width="11.7" height="12.8" rx="3"/>
<rect x="516.5" y="407.8" width="9.2" height="12.8" rx="3"/>
<rect x="541.2" y="407.8" width="5.3" height="12.8" rx="1.2"/>
<rect x="1057.5" y="407.8" width="11.2" height="12.8" rx="3"/>
<rect x="1068.5" y="407.8" width="11.7" height="12.8" rx="3"/>
<rect x="1080" y="407.8" width="11.7" height="12.8" rx="3"/>
<rect x="1091.5" y="407.8" width="11" height="12.8" rx="3"/>
<rect x="1137.4" y="407.8" width="5.3" height="12.8" rx="1.2"/>
<rect x="494.2" y="426.8" width="11" height="12.8" rx="3"/>
<rect x="505" y="426.8" width="11.7" height="12.8" rx="3"/>
<rect x="523" y="426.8" width="4.7" height="12.8" rx="1.2"/>
<rect x="551.2" y="426.8" width="11.5" height="12.8" rx="3"/>
<rect x="562.5" y="426.8" width="10.8" height="12.8" rx="3"/>
<rect x="584.5" y="426.8" width="1.7" height="12.8" rx="1.0"/>
<rect x="1069" y="426.8" width="11.2" height="12.8" rx="3"/>
<rect x="1080" y="426.8" width="10.7" height="12.8" rx="3"/>
<rect x="1098.3" y="426.8" width="4.6" height="12.8" rx="1.2"/>
<rect x="1148.5" y="426.8" width="12.2" height="12.8" rx="3"/>
<rect x="1160.5" y="426.8" width="11.6" height="12.8" rx="3"/>
<rect x="618.3" y="445.8" width="1.9" height="12.8" rx="0.8500000000000227"/>
<rect x="620" y="445.8" width="11.5" height="12.8" rx="3"/>
<rect x="688.3" y="445.8" width="12.4" height="12.8" rx="3"/>
<rect x="700.5" y="445.8" width="11.7" height="12.8" rx="3"/>
<rect x="712" y="445.8" width="11.7" height="12.8" rx="3"/>
<rect x="723.5" y="445.8" width="11.7" height="12.8" rx="3"/>
<rect x="735" y="445.8" width="11.7" height="12.8" rx="3"/>
<rect x="746.5" y="445.8" width="9.7" height="12.8" rx="3"/>
<rect x="773" y="445.8" width="8" height="12.8" rx="3"/>
<rect x="781.3" y="445.8" width="11.4" height="12.8" rx="3"/>
<rect x="792.5" y="445.8" width="11.7" height="12.8" rx="3"/>
<rect x="804" y="445.8" width="11.7" height="12.8" rx="3"/>
<rect x="815.5" y="445.8" width="11.7" height="12.8" rx="3"/>
<rect x="827" y="445.8" width="11.7" height="12.8" rx="3"/>
<rect x="838.5" y="445.8" width="11.7" height="12.8" rx="3"/>
<rect x="850" y="445.8" width="11.2" height="12.8" rx="3"/>
<rect x="862.4" y="445.8" width="3" height="12.8" rx="1.2"/>
<rect x="1022.4" y="464.8" width="11.8" height="12.8" rx="3"/>
<rect x="1034" y="464.8" width="10.9" height="12.8" rx="3"/>
<rect x="1173.2" y="464.8" width="10.5" height="12.8" rx="3"/>
<rect x="1183.5" y="464.8" width="11.7" height="12.8" rx="3"/>
<rect x="1195" y="464.8" width="11.2" height="12.8" rx="3"/>
<rect x="411.7" y="483.8" width="1.3" height="12.8" rx="0.8000000000000114"/>
<rect x="458.4" y="483.8" width="12.3" height="12.8" rx="3"/>
<rect x="470.5" y="483.8" width="11.7" height="12.8" rx="3"/>
<rect x="482" y="483.8" width="10.9" height="12.8" rx="3"/>
<rect x="551.2" y="483.8" width="10.8" height="12.8" rx="3"/>
<rect x="566.7" y="483.8" width="6" height="12.8" rx="3"/>
<rect x="587.5" y="483.8" width="9.7" height="12.8" rx="3"/>
<rect x="597" y="483.8" width="11.7" height="12.8" rx="3"/>
<rect x="608.5" y="483.8" width="8.5" height="12.8" rx="3"/>
<rect x="701.5" y="502.8" width="10.7" height="12.8" rx="3"/>
<rect x="712" y="502.8" width="11.7" height="12.8" rx="3"/>
<rect x="723.5" y="502.8" width="11.7" height="12.8" rx="3"/>
<rect x="735" y="502.8" width="10.9" height="12.8" rx="3"/>
<rect x="757" y="502.8" width="1.2" height="12.8" rx="0.75"/>
<rect x="781.3" y="502.8" width="11.4" height="12.8" rx="3"/>
<rect x="792.5" y="502.8" width="11.7" height="12.8" rx="3"/>
<rect x="804" y="502.8" width="11.7" height="12.8" rx="3"/>
<rect x="815.5" y="502.8" width="11.7" height="12.8" rx="3"/>
<rect x="827" y="502.8" width="11.7" height="12.8" rx="3"/>
<rect x="838.5" y="502.8" width="11.7" height="12.8" rx="3"/>
<rect x="850" y="502.8" width="11.7" height="12.8" rx="3"/>
<rect x="861.5" y="502.8" width="11.3" height="12.8" rx="3"/>
<rect x="949.8" y="502.8" width="3.6" height="12.8" rx="1.2"/>
<rect x="953.7" y="502.8" width="11.5" height="12.8" rx="3"/>
<rect x="965" y="502.8" width="11.7" height="12.8" rx="3"/>
<rect x="976.5" y="502.8" width="10.7" height="12.8" rx="3"/>
<rect x="1011.5" y="502.8" width="11.2" height="12.8" rx="3"/>
<rect x="1022.5" y="502.8" width="11.7" height="12.8" rx="3"/>
<rect x="1034" y="502.8" width="11.7" height="12.8" rx="3"/>
<rect x="1045.5" y="502.8" width="11.7" height="12.8" rx="3"/>
<rect x="1057" y="502.8" width="10.6" height="12.8" rx="3"/>
<rect x="1148.5" y="502.8" width="12.2" height="12.8" rx="3"/>
<rect x="1160.5" y="502.8" width="11.7" height="12.8" rx="3"/>
<rect x="1172" y="502.8" width="11.7" height="12.8" rx="3"/>
<rect x="1183.5" y="502.8" width="11.7" height="12.8" rx="3"/>
<rect x="1195" y="502.8" width="11.7" height="12.8" rx="3"/>
<rect x="1206.5" y="502.8" width="10.7" height="12.8" rx="3"/>
<rect x="552.4" y="521.8" width="10.3" height="12.8" rx="3"/>
<rect x="562.5" y="521.8" width="11.7" height="12.8" rx="3"/>
<rect x="574" y="521.8" width="9.2" height="12.8" rx="3"/>
<rect x="908.4" y="521.8" width="10.8" height="12.8" rx="3"/>
<rect x="919" y="521.8" width="11.7" height="12.8" rx="3"/>
<rect x="930.5" y="521.8" width="9" height="12.8" rx="3"/>
<rect x="1242.3" y="521.8" width="10.4" height="12.8" rx="3"/>
<rect x="1252.5" y="521.8" width="11.7" height="12.8" rx="3"/>
<rect x="1264" y="521.8" width="10.2" height="12.8" rx="3"/>
<rect x="436.5" y="540.8" width="11.2" height="12.8" rx="3"/>
<rect x="447.5" y="540.8" width="8.6" height="12.8" rx="3"/>
<rect x="666" y="540.8" width="11.7" height="12.8" rx="3"/>
<rect x="677.5" y="540.8" width="9.1" height="12.8" rx="3"/>
<rect x="896.5" y="540.8" width="11.2" height="12.8" rx="3"/>
<rect x="907.5" y="540.8" width="9.6" height="12.8" rx="3"/>
<rect x="1127.5" y="540.8" width="10.2" height="12.8" rx="3"/>
<rect x="1137.5" y="540.8" width="10.2" height="12.8" rx="3"/>
<rect x="1357.5" y="540.8" width="10.2" height="12.8" rx="3"/>
<rect x="1367.5" y="540.8" width="9" height="12.8" rx="3"/>
<rect x="953.7" y="559.8" width="11.5" height="12.8" rx="3"/>
<rect x="965" y="559.8" width="11.7" height="12.8" rx="3"/>
<rect x="976.5" y="559.8" width="10.7" height="12.8" rx="3"/>
<rect x="1011.5" y="559.8" width="11.2" height="12.8" rx="3"/>
<rect x="1022.5" y="559.8" width="11.7" height="12.8" rx="3"/>
<rect x="1034" y="559.8" width="11.7" height="12.8" rx="3"/>
<rect x="1045.5" y="559.8" width="10.7" height="12.8" rx="3"/>
<rect x="1162.4" y="559.8" width="9.8" height="12.8" rx="3"/>
<rect x="1172" y="559.8" width="11.7" height="12.8" rx="3"/>
<rect x="1183.5" y="559.8" width="11.7" height="12.8" rx="3"/>
<rect x="1195" y="559.8" width="11.7" height="12.8" rx="3"/>
<rect x="1206.5" y="559.8" width="11.2" height="12.8" rx="3"/>
<rect x="471.3" y="578.8" width="10.9" height="12.8" rx="3"/>
<rect x="482" y="578.8" width="11.7" height="12.8" rx="3"/>
<rect x="493.5" y="578.8" width="11.7" height="12.8" rx="3"/>
<rect x="505" y="578.8" width="11.7" height="12.8" rx="3"/>
<rect x="516.5" y="578.8" width="6.2" height="12.8" rx="3"/>
<rect x="1046.6" y="578.8" width="10.6" height="12.8" rx="3"/>
<rect x="1057" y="578.8" width="11.7" height="12.8" rx="3"/>
<rect x="1068.5" y="578.8" width="11.7" height="12.8" rx="3"/>
<rect x="1080" y="578.8" width="11.7" height="12.8" rx="3"/>
<rect x="1091.5" y="578.8" width="6.1" height="12.8" rx="3"/>
<rect x="1378.8" y="597.8" width="11.9" height="12.8" rx="3"/>
<rect x="1390.5" y="597.8" width="11.7" height="12.8" rx="3"/>
<rect x="1402" y="597.8" width="11.7" height="12.8" rx="3"/>
<rect x="1413.5" y="597.8" width="11.7" height="12.8" rx="3"/>
<rect x="1425" y="597.8" width="11.7" height="12.8" rx="3"/>
<rect x="1436.5" y="597.8" width="10.2" height="12.8" rx="3"/>
<rect x="1461.2" y="597.8" width="10" height="12.8" rx="3"/>
<rect x="1471" y="597.8" width="11.7" height="12.8" rx="3"/>
<rect x="1482.5" y="597.8" width="11.7" height="12.8" rx="3"/>
<rect x="1494" y="597.8" width="11.7" height="12.8" rx="3"/>
<rect x="1505.5" y="597.8" width="11.7" height="12.8" rx="3"/>
<rect x="1517" y="597.8" width="10.7" height="12.8" rx="3"/>
<rect x="606.4" y="616.8" width="2.3" height="12.8" rx="1.0500000000000114"/>
<rect x="608.5" y="616.8" width="11.7" height="12.8" rx="3"/>
<rect x="620" y="616.8" width="11.7" height="12.8" rx="3"/>
<rect x="631.5" y="616.8" width="11.3" height="12.8" rx="3"/>
<rect x="687.5" y="616.8" width="13.2" height="12.8" rx="3"/>
<rect x="700.5" y="616.8" width="11.7" height="12.8" rx="3"/>
<rect x="712" y="616.8" width="11.7" height="12.8" rx="3"/>
<rect x="723.5" y="616.8" width="11.7" height="12.8" rx="3"/>
<rect x="735" y="616.8" width="11.7" height="12.8" rx="3"/>
<rect x="746.5" y="616.8" width="11.7" height="12.8" rx="3"/>
<rect x="769.8" y="616.8" width="2.9" height="12.8" rx="1.2"/>
<rect x="494.2" y="635.8" width="11" height="12.8" rx="3"/>
<rect x="505" y="635.8" width="11.7" height="12.8" rx="3"/>
<rect x="516.5" y="635.8" width="11.2" height="12.8" rx="3"/>
<rect x="547.2" y="635.8" width="4" height="12.8" rx="1.2"/>
<rect x="551" y="635.8" width="11.7" height="12.8" rx="3"/>
<rect x="562.5" y="635.8" width="2.9" height="12.8" rx="1.2"/>
<rect x="1069" y="635.8" width="11.2" height="12.8" rx="3"/>
<rect x="1080" y="635.8" width="11.7" height="12.8" rx="3"/>
<rect x="1091.5" y="635.8" width="11" height="12.8" rx="3"/>
<rect x="1143.4" y="635.8" width="5.8" height="12.8" rx="1.2"/>
<rect x="1149" y="635.8" width="12.5" height="12.8" rx="3"/>
<rect x="574.6" y="654.8" width="11.1" height="12.8" rx="3"/>
<rect x="585.5" y="654.8" width="11.7" height="12.8" rx="3"/>
<rect x="597" y="654.8" width="8.1" height="12.8" rx="3"/>
<rect x="919.4" y="654.8" width="11.3" height="12.8" rx="3"/>
<rect x="930.5" y="654.8" width="11.7" height="12.8" rx="3"/>
<rect x="942" y="654.8" width="8.3" height="12.8" rx="3"/>
<rect x="1264.1" y="654.8" width="11.6" height="12.8" rx="3"/>
<rect x="1275.5" y="654.8" width="11.7" height="12.8" rx="3"/>
<rect x="1287" y="654.8" width="8.7" height="12.8" rx="3"/>
<rect x="377" y="673.8" width="13.2" height="12.8" rx="3"/>
<rect x="390" y="673.8" width="11.7" height="12.8" rx="3"/>
<rect x="401.5" y="673.8" width="10.9" height="12.8" rx="3"/>
<rect x="448.5" y="673.8" width="2.6" height="12.8" rx="1.2"/>
<rect x="1296.6" y="673.8" width="2.1" height="12.8" rx="0.9500000000000455"/>
<rect x="1298.5" y="673.8" width="11.7" height="12.8" rx="3"/>
<rect x="1310" y="673.8" width="11.7" height="12.8" rx="3"/>
<rect x="1321.5" y="673.8" width="10.9" height="12.8" rx="3"/>
<rect x="1376.8" y="673.8" width="2.4" height="12.8" rx="1.1000000000000227"/>
<rect x="1379" y="673.8" width="11.7" height="12.8" rx="3"/>
<rect x="1390.5" y="673.8" width="11.7" height="12.8" rx="3"/>
<rect x="1402" y="673.8" width="11.7" height="12.8" rx="3"/>
<rect x="1413.5" y="673.8" width="9.9" height="12.8" rx="3"/>
<rect x="1424.1" y="692.8" width="12.6" height="12.8" rx="3"/>
<rect x="1436.5" y="692.8" width="11.1" height="12.8" rx="3"/>
<rect x="1471.2" y="692.8" width="11.5" height="12.8" rx="3"/>
<rect x="1482.5" y="692.8" width="11.7" height="12.8" rx="3"/>
<rect x="1494" y="692.8" width="11.7" height="12.8" rx="3"/>
<rect x="1505.5" y="692.8" width="11.7" height="12.8" rx="3"/>
<rect x="1517" y="692.8" width="10.7" height="12.8" rx="3"/>
<rect x="1385.4" y="711.8" width="5.3" height="12.8" rx="1.2"/>
<rect x="1391" y="711.8" width="11.2" height="12.8" rx="3"/>
<rect x="1402" y="711.8" width="11.7" height="12.8" rx="3"/>
<rect x="1413.5" y="711.8" width="11.7" height="12.8" rx="3"/>
<rect x="1425" y="711.8" width="11.7" height="12.8" rx="3"/>
<rect x="1436.5" y="711.8" width="12.1" height="12.8" rx="3"/>
<rect x="1471.2" y="711.8" width="11.5" height="12.8" rx="3"/>
<rect x="1482.5" y="711.8" width="11.7" height="12.8" rx="3"/>
<rect x="1494" y="711.8" width="11.7" height="12.8" rx="3"/>
<rect x="1505.5" y="711.8" width="11.7" height="12.8" rx="3"/>
<rect x="1517" y="711.8" width="10.7" height="12.8" rx="3"/>
<rect x="563" y="730.8" width="11.2" height="12.8" rx="3"/>
<rect x="574" y="730.8" width="11.7" height="12.8" rx="3"/>
<rect x="585.5" y="730.8" width="8.7" height="12.8" rx="3"/>
<rect x="917.4" y="730.8" width="1.8" height="12.8" rx="0.8000000000000114"/>
<rect x="919" y="730.8" width="11.7" height="12.8" rx="3"/>
<rect x="930.5" y="730.8" width="11.7" height="12.8" rx="3"/>
<rect x="942" y="730.8" width="6.9" height="12.8" rx="3"/>
<rect x="1253.2" y="730.8" width="11" height="12.8" rx="3"/>
<rect x="1264" y="730.8" width="11.7" height="12.8" rx="3"/>
<rect x="1275.5" y="730.8" width="9.2" height="12.8" rx="3"/>
<rect x="377" y="749.8" width="13.2" height="12.8" rx="3"/>
<rect x="390" y="749.8" width="11.7" height="12.8" rx="3"/>
<rect x="401.5" y="749.8" width="2.2" height="12.8" rx="1.2"/>
<rect x="1242.3" y="749.8" width="10.4" height="12.8" rx="3"/>
<rect x="1252.5" y="749.8" width="10.3" height="12.8" rx="3"/>
<rect x="1285.4" y="749.8" width="1.8" height="12.8" rx="0.7999999999999545"/>
<rect x="1287" y="749.8" width="11.7" height="12.8" rx="3"/>
<rect x="1298.5" y="749.8" width="11.7" height="12.8" rx="3"/>
<rect x="1310" y="749.8" width="11.7" height="12.8" rx="3"/>
<rect x="1321.5" y="749.8" width="11.3" height="12.8" rx="3"/>
<rect x="1371" y="749.8" width="5.7" height="12.8" rx="1.2"/>
<rect x="1377" y="749.8" width="7.5" height="12.8" rx="3"/>
<rect x="606.4" y="768.8" width="2.3" height="12.8" rx="1.0500000000000114"/>
<rect x="608.5" y="768.8" width="11.7" height="12.8" rx="3"/>
<rect x="620" y="768.8" width="11.7" height="12.8" rx="3"/>
<rect x="631.5" y="768.8" width="11.3" height="12.8" rx="3"/>
<rect x="687" y="768.8" width="4.7" height="12.8" rx="1.2"/>
<rect x="458.4" y="787.8" width="11.6" height="12.8" rx="3"/>
<rect x="479.5" y="787.8" width="2.2" height="12.8" rx="1.2"/>
<rect x="482" y="787.8" width="10.9" height="12.8" rx="3"/>
<rect x="594.9" y="787.8" width="10.8" height="12.8" rx="3"/>
<rect x="606" y="787.8" width="2.7" height="12.8" rx="1.2"/>
<rect x="608.5" y="787.8" width="11.7" height="12.8" rx="3"/>
<rect x="620" y="787.8" width="11.7" height="12.8" rx="3"/>
<rect x="631.5" y="787.8" width="11.3" height="12.8" rx="3"/>
<rect x="677.9" y="787.8" width="11.3" height="12.8" rx="3"/>
<rect x="689" y="787.8" width="12.6" height="12.8" rx="3"/>
<rect x="574.6" y="806.8" width="11.1" height="12.8" rx="3"/>
<rect x="585.5" y="806.8" width="11.7" height="12.8" rx="3"/>
<rect x="597" y="806.8" width="8.1" height="12.8" rx="3"/>
<rect x="919.4" y="806.8" width="11.3" height="12.8" rx="3"/>
<rect x="930.5" y="806.8" width="11.7" height="12.8" rx="3"/>
<rect x="942" y="806.8" width="7.5" height="12.8" rx="3"/>
<rect x="1264.1" y="806.8" width="11.6" height="12.8" rx="3"/>
<rect x="1275.5" y="806.8" width="11.7" height="12.8" rx="3"/>
<rect x="1287" y="806.8" width="8.7" height="12.8" rx="3"/>
<rect x="377" y="825.8" width="13.2" height="12.8" rx="3"/>
<rect x="390" y="825.8" width="11.7" height="12.8" rx="3"/>
<rect x="401.5" y="825.8" width="2.4" height="12.8" rx="1.2"/>
<rect x="1241.3" y="825.8" width="11.4" height="12.8" rx="3"/>
<rect x="1252.5" y="825.8" width="10.9" height="12.8" rx="3"/>
<rect x="1275.5" y="825.8" width="11.7" height="12.8" rx="3"/>
<rect x="1287" y="825.8" width="11.7" height="12.8" rx="3"/>
<rect x="1298.5" y="825.8" width="11.7" height="12.8" rx="3"/>
<rect x="1310" y="825.8" width="11.7" height="12.8" rx="3"/>
<rect x="1321.5" y="825.8" width="11.9" height="12.8" rx="3"/>
<rect x="1368" y="825.8" width="2.6" height="12.8" rx="1.2"/>
<rect x="405.4" y="844.8" width="7" height="12.8" rx="3"/>
<rect x="457.4" y="844.8" width="1.8" height="12.8" rx="0.8000000000000114"/>
<rect x="459" y="844.8" width="11.7" height="12.8" rx="3"/>
<rect x="470.5" y="844.8" width="7.5" height="12.8" rx="3"/>
<rect x="1471.2" y="863.8" width="11.5" height="12.8" rx="3"/>
<rect x="1482.5" y="863.8" width="11.7" height="12.8" rx="3"/>
<rect x="1494" y="863.8" width="11.7" height="12.8" rx="3"/>
<rect x="1505.5" y="863.8" width="11.7" height="12.8" rx="3"/>
<rect x="1517" y="863.8" width="10.7" height="12.8" rx="3"/>
<rect x="780.3" y="939.8" width="12.4" height="12.8" rx="3"/>
<rect x="792.5" y="939.8" width="11.7" height="12.8" rx="3"/>
<rect x="804" y="939.8" width="11.7" height="12.8" rx="3"/>
<rect x="815.5" y="939.8" width="11.7" height="12.8" rx="3"/>
<rect x="827" y="939.8" width="11.7" height="12.8" rx="3"/>
<rect x="838.5" y="939.8" width="11.7" height="12.8" rx="3"/>
<rect x="850" y="939.8" width="10.9" height="12.8" rx="3"/>
<rect x="1011.5" y="939.8" width="11" height="12.8" rx="3"/>
<rect x="865.1" y="958.8" width="7.7" height="12.8" rx="3"/>
<rect x="951" y="958.8" width="1.7" height="12.8" rx="1.0"/>
<rect x="949.2" y="977.8" width="4" height="12.8" rx="1.2"/>
<rect x="953.5" y="977.8" width="11.7" height="12.8" rx="3"/>
<rect x="965" y="977.8" width="10.7" height="12.8" rx="3"/>
</g>
<g fill="#000" opacity="0.75">
<rect x="424.3" y="159" width="1" height="1"/>
<rect x="539.1" y="159" width="1" height="1"/>
<rect x="654.2" y="159" width="1" height="1"/>
<rect x="769.5" y="159" width="1" height="1"/>
<rect x="883.9" y="159" width="1" height="1"/>
<rect x="999.2" y="159" width="1" height="1"/>
<rect x="1115.2" y="159" width="1" height="1"/>
<rect x="1229.7" y="159" width="1" height="1"/>
<rect x="1344.3" y="159" width="1" height="1"/>
<rect x="1459.2" y="159" width="1" height="1"/>
<rect x="435.7" y="178" width="1" height="1"/>
<rect x="550.5" y="178" width="1" height="1"/>
<rect x="665.7" y="178" width="1" height="1"/>
<rect x="780.6" y="178" width="1" height="1"/>
<rect x="895.6" y="178" width="1" height="1"/>
<rect x="1010.6" y="178" width="1" height="1"/>
<rect x="1126.4" y="178" width="1" height="1"/>
<rect x="1241" y="178" width="1" height="1"/>
<rect x="1355.9" y="178" width="1" height="1"/>
<rect x="1470.5" y="178" width="1" height="1"/>
<rect x="700.2" y="197" width="1" height="1"/>
<rect x="711.7" y="197" width="1" height="1"/>
<rect x="723.2" y="197" width="1" height="1"/>
<rect x="734.7" y="197" width="1" height="1"/>
<rect x="746.2" y="197" width="1" height="1"/>
<rect x="757.9" y="197" width="1" height="1"/>
<rect x="792.2" y="197" width="1" height="1"/>
<rect x="803.7" y="197" width="1" height="1"/>
<rect x="815.2" y="197" width="1" height="1"/>
<rect x="826.7" y="197" width="1" height="1"/>
<rect x="838.2" y="197" width="1" height="1"/>
<rect x="849.7" y="197" width="1" height="1"/>
<rect x="861.2" y="197" width="1" height="1"/>
<rect x="872.8" y="197" width="1" height="1"/>
<rect x="941.7" y="197" width="1" height="1"/>
<rect x="953.2" y="197" width="1" height="1"/>
<rect x="964.7" y="197" width="1" height="1"/>
<rect x="976.2" y="197" width="1" height="1"/>
<rect x="987.2" y="197" width="1" height="1"/>
<rect x="1010.7" y="197" width="1" height="1"/>
<rect x="1022.2" y="197" width="1" height="1"/>
<rect x="1033.7" y="197" width="1" height="1"/>
<rect x="1045.2" y="197" width="1" height="1"/>
<rect x="1056.7" y="197" width="1" height="1"/>
<rect x="1068.2" y="197" width="1" height="1"/>
<rect x="1160.2" y="197" width="1" height="1"/>
<rect x="1171.7" y="197" width="1" height="1"/>
<rect x="1183.2" y="197" width="1" height="1"/>
<rect x="1194.7" y="197" width="1" height="1"/>
<rect x="1206.2" y="197" width="1" height="1"/>
<rect x="1217.2" y="197" width="1" height="1"/>
<rect x="1240.7" y="197" width="1" height="1"/>
<rect x="1252.3" y="197" width="1" height="1"/>
<rect x="424.3" y="216" width="1" height="1"/>
<rect x="539.5" y="216" width="1" height="1"/>
<rect x="654.7" y="216" width="1" height="1"/>
<rect x="769.1" y="216" width="1" height="1"/>
<rect x="884.3" y="216" width="1" height="1"/>
<rect x="1000" y="216" width="1" height="1"/>
<rect x="1115.2" y="216" width="1" height="1"/>
<rect x="1230.1" y="216" width="1" height="1"/>
<rect x="1344.3" y="216" width="1" height="1"/>
<rect x="1459.6" y="216" width="1" height="1"/>
<rect x="424.3" y="235" width="1" height="1"/>
<rect x="539.1" y="235" width="1" height="1"/>
<rect x="653.7" y="235" width="1" height="1"/>
<rect x="769.1" y="235" width="1" height="1"/>
<rect x="884.3" y="235" width="1" height="1"/>
<rect x="998.7" y="235" width="1" height="1"/>
<rect x="1113.9" y="235" width="1" height="1"/>
<rect x="1229.1" y="235" width="1" height="1"/>
<rect x="1344.3" y="235" width="1" height="1"/>
<rect x="1459.2" y="235" width="1" height="1"/>
<rect x="435.2" y="254" width="1" height="1"/>
<rect x="550.1" y="254" width="1" height="1"/>
<rect x="666.1" y="254" width="1" height="1"/>
<rect x="780" y="254" width="1" height="1"/>
<rect x="895.6" y="254" width="1" height="1"/>
<rect x="1010" y="254" width="1" height="1"/>
<rect x="1125.7" y="254" width="1" height="1"/>
<rect x="1240.4" y="254" width="1" height="1"/>
<rect x="1356.3" y="254" width="1" height="1"/>
<rect x="1470.5" y="254" width="1" height="1"/>
<rect x="435.7" y="273" width="1" height="1"/>
<rect x="447.2" y="273" width="1" height="1"/>
<rect x="665.7" y="273" width="1" height="1"/>
<rect x="677.2" y="273" width="1" height="1"/>
<rect x="895.7" y="273" width="1" height="1"/>
<rect x="907.2" y="273" width="1" height="1"/>
<rect x="1125.7" y="273" width="1" height="1"/>
<rect x="1136.7" y="273" width="1" height="1"/>
<rect x="1355.7" y="273" width="1" height="1"/>
<rect x="1367.2" y="273" width="1" height="1"/>
<rect x="411.4" y="292" width="1" height="1"/>
<rect x="526.7" y="292" width="1" height="1"/>
<rect x="641.5" y="292" width="1" height="1"/>
<rect x="756.8" y="292" width="1" height="1"/>
<rect x="871.4" y="292" width="1" height="1"/>
<rect x="986.6" y="292" width="1" height="1"/>
<rect x="1101.5" y="292" width="1" height="1"/>
<rect x="1216.2" y="292" width="1" height="1"/>
<rect x="1331.4" y="292" width="1" height="1"/>
<rect x="1446.6" y="292" width="1" height="1"/>
<rect x="389.7" y="311" width="1" height="1"/>
<rect x="400.5" y="311" width="1" height="1"/>
<rect x="412.4" y="311" width="1" height="1"/>
<rect x="458.7" y="311" width="1" height="1"/>
<rect x="470.2" y="311" width="1" height="1"/>
<rect x="480.9" y="311" width="1" height="1"/>
<rect x="1298.2" y="311" width="1" height="1"/>
<rect x="1309.7" y="311" width="1" height="1"/>
<rect x="1321.5" y="311" width="1" height="1"/>
<rect x="1390.2" y="311" width="1" height="1"/>
<rect x="1401.7" y="311" width="1" height="1"/>
<rect x="1413.2" y="311" width="1" height="1"/>
<rect x="1424.7" y="311" width="1" height="1"/>
<rect x="1434.1" y="311" width="1" height="1"/>
<rect x="447.2" y="330" width="1" height="1"/>
<rect x="456.5" y="330" width="1" height="1"/>
<rect x="677.2" y="330" width="1" height="1"/>
<rect x="686.6" y="330" width="1" height="1"/>
<rect x="907.2" y="330" width="1" height="1"/>
<rect x="916.5" y="330" width="1" height="1"/>
<rect x="1137.2" y="330" width="1" height="1"/>
<rect x="1146.6" y="330" width="1" height="1"/>
<rect x="1367.2" y="330" width="1" height="1"/>
<rect x="1377.1" y="330" width="1" height="1"/>
<rect x="424.3" y="349" width="1" height="1"/>
<rect x="539.1" y="349" width="1" height="1"/>
<rect x="654.2" y="349" width="1" height="1"/>
<rect x="768.5" y="349" width="1" height="1"/>
<rect x="884.3" y="349" width="1" height="1"/>
<rect x="998.7" y="349" width="1" height="1"/>
<rect x="1113.9" y="349" width="1" height="1"/>
<rect x="1229.7" y="349" width="1" height="1"/>
<rect x="1345.3" y="349" width="1" height="1"/>
<rect x="1459.6" y="349" width="1" height="1"/>
<rect x="436.2" y="368" width="1" height="1"/>
<rect x="550.1" y="368" width="1" height="1"/>
<rect x="665.7" y="368" width="1" height="1"/>
<rect x="780" y="368" width="1" height="1"/>
<rect x="895.6" y="368" width="1" height="1"/>
<rect x="1010" y="368" width="1" height="1"/>
<rect x="1125.7" y="368" width="1" height="1"/>
<rect x="1240.4" y="368" width="1" height="1"/>
<rect x="1355.9" y="368" width="1" height="1"/>
<rect x="1470.1" y="368" width="1" height="1"/>
<rect x="447.2" y="387" width="1" height="1"/>
<rect x="457.1" y="387" width="1" height="1"/>
<rect x="677.2" y="387" width="1" height="1"/>
<rect x="687.2" y="387" width="1" height="1"/>
<rect x="907.2" y="387" width="1" height="1"/>
<rect x="917.5" y="387" width="1" height="1"/>
<rect x="1137.2" y="387" width="1" height="1"/>
<rect x="1147.7" y="387" width="1" height="1"/>
<rect x="1367.2" y="387" width="1" height="1"/>
<rect x="1376.5" y="387" width="1" height="1"/>
<rect x="493.2" y="406" width="1" height="1"/>
<rect x="504.7" y="406" width="1" height="1"/>
<rect x="516.2" y="406" width="1" height="1"/>
<rect x="525.7" y="406" width="1" height="1"/>
<rect x="546.5" y="406" width="1" height="1"/>
<rect x="1068.2" y="406" width="1" height="1"/>
<rect x="1079.7" y="406" width="1" height="1"/>
<rect x="1091.2" y="406" width="1" height="1"/>
<rect x="1102.5" y="406" width="1" height="1"/>
<rect x="1142.7" y="406" width="1" height="1"/>
<rect x="504.7" y="425" width="1" height="1"/>
<rect x="516.7" y="425" width="1" height="1"/>
<rect x="527.7" y="425" width="1" height="1"/>
<rect x="562.2" y="425" width="1" height="1"/>
<rect x="573.3" y="425" width="1" height="1"/>
<rect x="586.2" y="425" width="1" height="1"/>
<rect x="1079.7" y="425" width="1" height="1"/>
<rect x="1090.7" y="425" width="1" height="1"/>
<rect x="1102.9" y="425" width="1" height="1"/>
<rect x="1160.2" y="425" width="1" height="1"/>
<rect x="1172.1" y="425" width="1" height="1"/>
<rect x="619.7" y="444" width="1" height="1"/>
<rect x="631.5" y="444" width="1" height="1"/>
<rect x="700.2" y="444" width="1" height="1"/>
<rect x="711.7" y="444" width="1" height="1"/>
<rect x="723.2" y="444" width="1" height="1"/>
<rect x="734.7" y="444" width="1" height="1"/>
<rect x="746.2" y="444" width="1" height="1"/>
<rect x="756.2" y="444" width="1" height="1"/>
<rect x="781" y="444" width="1" height="1"/>
<rect x="792.2" y="444" width="1" height="1"/>
<rect x="803.7" y="444" width="1" height="1"/>
<rect x="815.2" y="444" width="1" height="1"/>
<rect x="826.7" y="444" width="1" height="1"/>
<rect x="838.2" y="444" width="1" height="1"/>
<rect x="849.7" y="444" width="1" height="1"/>
<rect x="861.2" y="444" width="1" height="1"/>
<rect x="865.4" y="444" width="1" height="1"/>
<rect x="1033.7" y="463" width="1" height="1"/>
<rect x="1044.9" y="463" width="1" height="1"/>
<rect x="1183.2" y="463" width="1" height="1"/>
<rect x="1194.7" y="463" width="1" height="1"/>
<rect x="1206.2" y="463" width="1" height="1"/>
<rect x="413" y="482" width="1" height="1"/>
<rect x="470.2" y="482" width="1" height="1"/>
<rect x="481.7" y="482" width="1" height="1"/>
<rect x="492.9" y="482" width="1" height="1"/>
<rect x="562" y="482" width="1" height="1"/>
<rect x="572.7" y="482" width="1" height="1"/>
<rect x="596.7" y="482" width="1" height="1"/>
<rect x="608.2" y="482" width="1" height="1"/>
<rect x="617" y="482" width="1" height="1"/>
<rect x="711.7" y="501" width="1" height="1"/>
<rect x="723.2" y="501" width="1" height="1"/>
<rect x="734.7" y="501" width="1" height="1"/>
<rect x="745.9" y="501" width="1" height="1"/>
<rect x="758.2" y="501" width="1" height="1"/>
<rect x="792.2" y="501" width="1" height="1"/>
<rect x="803.7" y="501" width="1" height="1"/>
<rect x="815.2" y="501" width="1" height="1"/>
<rect x="826.7" y="501" width="1" height="1"/>
<rect x="838.2" y="501" width="1" height="1"/>
<rect x="849.7" y="501" width="1" height="1"/>
<rect x="861.2" y="501" width="1" height="1"/>
<rect x="872.8" y="501" width="1" height="1"/>
<rect x="953.4" y="501" width="1" height="1"/>
<rect x="964.7" y="501" width="1" height="1"/>
<rect x="976.2" y="501" width="1" height="1"/>
<rect x="987.2" y="501" width="1" height="1"/>
<rect x="1022.2" y="501" width="1" height="1"/>
<rect x="1033.7" y="501" width="1" height="1"/>
<rect x="1045.2" y="501" width="1" height="1"/>
<rect x="1056.7" y="501" width="1" height="1"/>
<rect x="1067.6" y="501" width="1" height="1"/>
<rect x="1160.2" y="501" width="1" height="1"/>
<rect x="1171.7" y="501" width="1" height="1"/>
<rect x="1183.2" y="501" width="1" height="1"/>
<rect x="1194.7" y="501" width="1" height="1"/>
<rect x="1206.2" y="501" width="1" height="1"/>
<rect x="1217.2" y="501" width="1" height="1"/>
<rect x="562.2" y="520" width="1" height="1"/>
<rect x="573.7" y="520" width="1" height="1"/>
<rect x="583.2" y="520" width="1" height="1"/>
<rect x="918.7" y="520" width="1" height="1"/>
<rect x="930.2" y="520" width="1" height="1"/>
<rect x="939.5" y="520" width="1" height="1"/>
<rect x="1252.2" y="520" width="1" height="1"/>
<rect x="1263.7" y="520" width="1" height="1"/>
<rect x="1274.2" y="520" width="1" height="1"/>
<rect x="447.2" y="539" width="1" height="1"/>
<rect x="456.1" y="539" width="1" height="1"/>
<rect x="677.2" y="539" width="1" height="1"/>
<rect x="686.6" y="539" width="1" height="1"/>
<rect x="907.2" y="539" width="1" height="1"/>
<rect x="917.1" y="539" width="1" height="1"/>
<rect x="1137.2" y="539" width="1" height="1"/>
<rect x="1147.7" y="539" width="1" height="1"/>
<rect x="1367.2" y="539" width="1" height="1"/>
<rect x="1376.5" y="539" width="1" height="1"/>
<rect x="964.7" y="558" width="1" height="1"/>
<rect x="976.2" y="558" width="1" height="1"/>
<rect x="987.2" y="558" width="1" height="1"/>
<rect x="1022.2" y="558" width="1" height="1"/>
<rect x="1033.7" y="558" width="1" height="1"/>
<rect x="1045.2" y="558" width="1" height="1"/>
<rect x="1056.2" y="558" width="1" height="1"/>
<rect x="1171.7" y="558" width="1" height="1"/>
<rect x="1183.2" y="558" width="1" height="1"/>
<rect x="1194.7" y="558" width="1" height="1"/>
<rect x="1206.2" y="558" width="1" height="1"/>
<rect x="1217.7" y="558" width="1" height="1"/>
<rect x="481.7" y="577" width="1" height="1"/>
<rect x="493.2" y="577" width="1" height="1"/>
<rect x="504.7" y="577" width="1" height="1"/>
<rect x="516.2" y="577" width="1" height="1"/>
<rect x="522.7" y="577" width="1" height="1"/>
<rect x="1056.7" y="577" width="1" height="1"/>
<rect x="1068.2" y="577" width="1" height="1"/>
<rect x="1079.7" y="577" width="1" height="1"/>
<rect x="1091.2" y="577" width="1" height="1"/>
<rect x="1097.6" y="577" width="1" height="1"/>
<rect x="1390.2" y="596" width="1" height="1"/>
<rect x="1401.7" y="596" width="1" height="1"/>
<rect x="1413.2" y="596" width="1" height="1"/>
<rect x="1424.7" y="596" width="1" height="1"/>
<rect x="1436.2" y="596" width="1" height="1"/>
<rect x="1446.7" y="596" width="1" height="1"/>
<rect x="1470.7" y="596" width="1" height="1"/>
<rect x="1482.2" y="596" width="1" height="1"/>
<rect x="1493.7" y="596" width="1" height="1"/>
<rect x="1505.2" y="596" width="1" height="1"/>
<rect x="1516.7" y="596" width="1" height="1"/>
<rect x="1527.7" y="596" width="1" height="1"/>
<rect x="608.2" y="615" width="1" height="1"/>
<rect x="619.7" y="615" width="1" height="1"/>
<rect x="631.2" y="615" width="1" height="1"/>
<rect x="642.8" y="615" width="1" height="1"/>
<rect x="700.2" y="615" width="1" height="1"/>
<rect x="711.7" y="615" width="1" height="1"/>
<rect x="723.2" y="615" width="1" height="1"/>
<rect x="734.7" y="615" width="1" height="1"/>
<rect x="746.2" y="615" width="1" height="1"/>
<rect x="758.2" y="615" width="1" height="1"/>
<rect x="772.7" y="615" width="1" height="1"/>
<rect x="504.7" y="634" width="1" height="1"/>
<rect x="516.2" y="634" width="1" height="1"/>
<rect x="527.7" y="634" width="1" height="1"/>
<rect x="550.7" y="634" width="1" height="1"/>
<rect x="562.2" y="634" width="1" height="1"/>
<rect x="565.4" y="634" width="1" height="1"/>
<rect x="1079.7" y="634" width="1" height="1"/>
<rect x="1091.2" y="634" width="1" height="1"/>
<rect x="1102.5" y="634" width="1" height="1"/>
<rect x="1148.7" y="634" width="1" height="1"/>
<rect x="1161.5" y="634" width="1" height="1"/>
<rect x="585.2" y="653" width="1" height="1"/>
<rect x="596.7" y="653" width="1" height="1"/>
<rect x="605.1" y="653" width="1" height="1"/>
<rect x="930.2" y="653" width="1" height="1"/>
<rect x="941.7" y="653" width="1" height="1"/>
<rect x="950.3" y="653" width="1" height="1"/>
<rect x="1275.2" y="653" width="1" height="1"/>
<rect x="1286.7" y="653" width="1" height="1"/>
<rect x="1295.7" y="653" width="1" height="1"/>
<rect x="389.7" y="672" width="1" height="1"/>
<rect x="401.2" y="672" width="1" height="1"/>
<rect x="412.4" y="672" width="1" height="1"/>
<rect x="451.1" y="672" width="1" height="1"/>
<rect x="1298.2" y="672" width="1" height="1"/>
<rect x="1309.7" y="672" width="1" height="1"/>
<rect x="1321.2" y="672" width="1" height="1"/>
<rect x="1332.4" y="672" width="1" height="1"/>
<rect x="1378.7" y="672" width="1" height="1"/>
<rect x="1390.2" y="672" width="1" height="1"/>
<rect x="1401.7" y="672" width="1" height="1"/>
<rect x="1413.2" y="672" width="1" height="1"/>
<rect x="1423.4" y="672" width="1" height="1"/>
<rect x="1436.2" y="691" width="1" height="1"/>
<rect x="1447.6" y="691" width="1" height="1"/>
<rect x="1482.2" y="691" width="1" height="1"/>
<rect x="1493.7" y="691" width="1" height="1"/>
<rect x="1505.2" y="691" width="1" height="1"/>
<rect x="1516.7" y="691" width="1" height="1"/>
<rect x="1527.7" y="691" width="1" height="1"/>
<rect x="1390.7" y="710" width="1" height="1"/>
<rect x="1401.7" y="710" width="1" height="1"/>
<rect x="1413.2" y="710" width="1" height="1"/>
<rect x="1424.7" y="710" width="1" height="1"/>
<rect x="1436.2" y="710" width="1" height="1"/>
<rect x="1448.6" y="710" width="1" height="1"/>
<rect x="1482.2" y="710" width="1" height="1"/>
<rect x="1493.7" y="710" width="1" height="1"/>
<rect x="1505.2" y="710" width="1" height="1"/>
<rect x="1516.7" y="710" width="1" height="1"/>
<rect x="1527.7" y="710" width="1" height="1"/>
<rect x="573.7" y="729" width="1" height="1"/>
<rect x="585.2" y="729" width="1" height="1"/>
<rect x="594.2" y="729" width="1" height="1"/>
<rect x="918.7" y="729" width="1" height="1"/>
<rect x="930.2" y="729" width="1" height="1"/>
<rect x="941.7" y="729" width="1" height="1"/>
<rect x="948.9" y="729" width="1" height="1"/>
<rect x="1263.7" y="729" width="1" height="1"/>
<rect x="1275.2" y="729" width="1" height="1"/>
<rect x="1284.7" y="729" width="1" height="1"/>
<rect x="389.7" y="748" width="1" height="1"/>
<rect x="401.2" y="748" width="1" height="1"/>
<rect x="403.7" y="748" width="1" height="1"/>
<rect x="1252.2" y="748" width="1" height="1"/>
<rect x="1262.8" y="748" width="1" height="1"/>
<rect x="1286.7" y="748" width="1" height="1"/>
<rect x="1298.2" y="748" width="1" height="1"/>
<rect x="1309.7" y="748" width="1" height="1"/>
<rect x="1321.2" y="748" width="1" height="1"/>
<rect x="1332.8" y="748" width="1" height="1"/>
<rect x="1376.7" y="748" width="1" height="1"/>
<rect x="1384.5" y="748" width="1" height="1"/>
<rect x="608.2" y="767" width="1" height="1"/>
<rect x="619.7" y="767" width="1" height="1"/>
<rect x="631.2" y="767" width="1" height="1"/>
<rect x="642.8" y="767" width="1" height="1"/>
<rect x="691.7" y="767" width="1" height="1"/>
<rect x="470" y="786" width="1" height="1"/>
<rect x="481.7" y="786" width="1" height="1"/>
<rect x="492.9" y="786" width="1" height="1"/>
<rect x="605.7" y="786" width="1" height="1"/>
<rect x="608.2" y="786" width="1" height="1"/>
<rect x="619.7" y="786" width="1" height="1"/>
<rect x="631.2" y="786" width="1" height="1"/>
<rect x="642.8" y="786" width="1" height="1"/>
<rect x="688.7" y="786" width="1" height="1"/>
<rect x="701.6" y="786" width="1" height="1"/>
<rect x="585.2" y="805" width="1" height="1"/>
<rect x="596.7" y="805" width="1" height="1"/>
<rect x="605.1" y="805" width="1" height="1"/>
<rect x="930.2" y="805" width="1" height="1"/>
<rect x="941.7" y="805" width="1" height="1"/>
<rect x="949.5" y="805" width="1" height="1"/>
<rect x="1275.2" y="805" width="1" height="1"/>
<rect x="1286.7" y="805" width="1" height="1"/>
<rect x="1295.7" y="805" width="1" height="1"/>
<rect x="389.7" y="824" width="1" height="1"/>
<rect x="401.2" y="824" width="1" height="1"/>
<rect x="403.9" y="824" width="1" height="1"/>
<rect x="1252.2" y="824" width="1" height="1"/>
<rect x="1263.4" y="824" width="1" height="1"/>
<rect x="1286.7" y="824" width="1" height="1"/>
<rect x="1298.2" y="824" width="1" height="1"/>
<rect x="1309.7" y="824" width="1" height="1"/>
<rect x="1321.2" y="824" width="1" height="1"/>
<rect x="1333.4" y="824" width="1" height="1"/>
<rect x="1370.6" y="824" width="1" height="1"/>
<rect x="412.4" y="843" width="1" height="1"/>
<rect x="458.7" y="843" width="1" height="1"/>
<rect x="470.2" y="843" width="1" height="1"/>
<rect x="478" y="843" width="1" height="1"/>
<rect x="1482.2" y="862" width="1" height="1"/>
<rect x="1493.7" y="862" width="1" height="1"/>
<rect x="1505.2" y="862" width="1" height="1"/>
<rect x="1516.7" y="862" width="1" height="1"/>
<rect x="1527.7" y="862" width="1" height="1"/>
<rect x="792.2" y="938" width="1" height="1"/>
<rect x="803.7" y="938" width="1" height="1"/>
<rect x="815.2" y="938" width="1" height="1"/>
<rect x="826.7" y="938" width="1" height="1"/>
<rect x="838.2" y="938" width="1" height="1"/>
<rect x="849.7" y="938" width="1" height="1"/>
<rect x="860.9" y="938" width="1" height="1"/>
<rect x="1022.5" y="938" width="1" height="1"/>
<rect x="872.8" y="957" width="1" height="1"/>
<rect x="952.7" y="957" width="1" height="1"/>
<rect x="953.2" y="976" width="1" height="1"/>
<rect x="964.7" y="976" width="1" height="1"/>
<rect x="975.7" y="976" width="1" height="1"/>
</g>
<g stroke="#000" stroke-width="1.15" fill="#000">
<path d="M401.3 319.5L401.8 300.5" fill="none"/>
<path d="M404.5 756.5L404.5 851.5" fill="none"/>
<path d="M404.5 832.5L404.5 319.5" fill="none"/>
<path d="M411.5 300.5L411.5 490.5" fill="none"/>
<path d="M413.5 851.5L413.5 167.5" fill="none"/>
<path d="M413.5 851.5L413.5 243.5" fill="none"/>
<path d="M413.5 851.5L413.5 357.5" fill="none"/>
<path d="M424.5 167.5L424.5 376.5" fill="none"/>
<path d="M425.5 167.5L425.5 262.5" fill="none"/>
<path d="M425.5 357.5L425.5 186.5" fill="none"/>
<path d="M435.5 186.5L435.5 338.5" fill="none"/>
<path d="M435.5 186.5L435.5 395.5" fill="none"/>
<path d="M435.5 186.5L435.5 547.5" fill="none"/>
<path d="M447.5 281.5L447.5 680.5" fill="none"/>
<path d="M451.5 680.5L451.5 319.5" fill="none"/>
<path d="M456.5 547.5L456.5 490.5" fill="none"/>
<path d="M456.5 338.5L456.5 851.5" fill="none"/>
<path d="M457.5 395.5L457.5 794.5" fill="none"/>
<path d="M470.5 794.5L470.5 585.5" fill="none"/>
<path d="M478.5 851.5L478.5 794.5" fill="none"/>
<path d="M481.5 319.5L481.5 794.5" fill="none"/>
<path d="M481.5 794.5L481.5 414.5" fill="none"/>
<path d="M493.5 490.5L493.5 433.5" fill="none"/>
<path d="M493.5 794.5L493.5 642.5" fill="none"/>
<path d="M516.5 433.5L516.5 300.5" fill="none"/>
<path d="M522.5 585.5L522.5 433.5" fill="none"/>
<path d="M528.5 642.5L528.5 167.5" fill="none"/>
<path d="M528.5 642.5L528.5 224.5" fill="none"/>
<path d="M527.5 642.5L527.5 243.5" fill="none"/>
<path d="M528.5 642.5L528.5 357.5" fill="none"/>
<path d="M527.5 300.5L527.5 490.5" fill="none"/>
<path d="M539.5 167.5L539.5 186.5" fill="none"/>
<path d="M539.5 357.5L539.5 376.5" fill="none"/>
<path d="M540.5 224.5L540.5 414.5" fill="none"/>
<path d="M546.5 414.5L546.5 642.5" fill="none"/>
<path d="M550.5 186.5L550.5 433.5" fill="none"/>
<path d="M550.5 186.5L550.5 490.5" fill="none"/>
<path d="M551.5 794.5L551.5 528.5" fill="none"/>
<path d="M550.5 186.5L550.5 794.5" fill="none"/>
<path d="M562.5 490.5L562.5 737.5" fill="none"/>
<path d="M565.5 642.5L565.5 490.5" fill="none"/>
<path d="M573.5 433.5L573.5 661.5" fill="none"/>
<path d="M573.5 433.5L573.5 813.5" fill="none"/>
<path d="M583.5 528.5L583.5 433.5" fill="none"/>
<path d="M586.5 433.5L586.5 490.5" fill="none"/>
<path d="M594.5 737.5L594.5 794.5" fill="none"/>
<path d="M605.5 661.5L605.5 623.5" fill="none"/>
<path d="M605.5 661.5L605.5 775.5" fill="none"/>
<path d="M605.5 813.5L605.5 623.5" fill="none"/>
<path d="M617.5 490.5L617.5 452.5" fill="none"/>
<path d="M631.5 452.5L631.5 300.5" fill="none"/>
<path d="M641.5 300.5L641.5 452.5" fill="none"/>
<path d="M643.5 775.5L643.5 167.5" fill="none"/>
<path d="M643.5 775.5L643.5 243.5" fill="none"/>
<path d="M643.5 775.5L643.5 357.5" fill="none"/>
<path d="M654.5 243.5L654.5 186.5" fill="none"/>
<path d="M655.5 167.5L655.5 262.5" fill="none"/>
<path d="M655.5 357.5L655.5 281.5" fill="none"/>
<path d="M654.5 167.5L654.5 376.5" fill="none"/>
<path d="M665.5 186.5L665.5 338.5" fill="none"/>
<path d="M665.5 186.5L665.5 395.5" fill="none"/>
<path d="M665.5 186.5L665.5 547.5" fill="none"/>
<path d="M677.5 281.5L677.5 794.5" fill="none"/>
<path d="M687.5 395.5L687.5 452.5" fill="none"/>
<path d="M686.5 338.5L686.5 623.5" fill="none"/>
<path d="M686.5 547.5L686.5 775.5" fill="none"/>
<path d="M691.5 775.5L691.5 205.5" fill="none"/>
<path d="M701.5 794.5L701.5 509.5" fill="none"/>
<path d="M746.5 509.5L746.5 300.5" fill="none"/>
<path d="M757.5 300.5L757.5 509.5" fill="none"/>
<path d="M758.5 623.5L758.5 167.5" fill="none"/>
<path d="M758.5 623.5L758.5 224.5" fill="none"/>
<path d="M758.5 623.5L758.5 243.5" fill="none"/>
<path d="M757.5 623.5L757.5 357.5" fill="none"/>
<path d="M769.5 167.5L769.5 623.5" fill="none"/>
<path d="M769.5 167.5L769.5 262.5" fill="none"/>
<path d="M768.5 623.5L768.5 376.5" fill="none"/>
<path d="M769.5 357.5L769.5 186.5" fill="none"/>
<path d="M772.5 623.5L772.5 452.5" fill="none"/>
<path d="M780.5 186.5L780.5 509.5" fill="none"/>
<path d="M780.5 262.5L780.5 205.5" fill="none"/>
<path d="M780.9 262.5L861.8 300.5" fill="none"/>
<path d="M865.5 452.5L872.3 167.5" fill="none"/>
<path d="M873.5 509.5L873.5 357.5" fill="none"/>
<path d="M873.5 509.5L873.5 243.5" fill="none"/>
<path d="M884.5 167.5L884.5 186.5" fill="none"/>
<path d="M884.5 224.5L884.5 262.5" fill="none"/>
<path d="M885.5 224.5L885.5 281.5" fill="none"/>
<path d="M884.5 357.5L884.5 376.5" fill="none"/>
<path d="M895.5 186.5L895.5 338.5" fill="none"/>
<path d="M895.5 186.5L895.5 395.5" fill="none"/>
<path d="M907.5 281.5L907.5 528.5" fill="none"/>
<path d="M918.5 338.5L918.5 205.5" fill="none"/>
<path d="M917.5 547.5L917.5 509.5" fill="none"/>
<path d="M918.5 395.5L918.5 661.5" fill="none"/>
<path d="M917.5 205.5L917.5 737.5" fill="none"/>
<path d="M918.5 547.5L918.5 813.5" fill="none"/>
<path d="M939.5 528.5L939.5 205.5" fill="none"/>
<path d="M948.5 737.5L948.5 509.5" fill="none"/>
<path d="M950.8 661.5L953.1 566.5" fill="none"/>
<path d="M949.5 813.5L976.5 300.5" fill="none"/>
<path d="M986.9 300.5L987.9 243.5" fill="none"/>
<path d="M987.5 566.5L987.5 357.5" fill="none"/>
<path d="M988.5 566.5L988.5 167.5" fill="none"/>
<path d="M988.5 205.5L988.5 224.5" fill="none"/>
<path d="M999.5 167.5L999.5 376.5" fill="none"/>
<path d="M999.5 357.5L999.5 186.5" fill="none"/>
<path d="M1000.5 224.5L1000.5 205.5" fill="none"/>
<path d="M1010.5 186.5L1010.5 509.5" fill="none"/>
<path d="M1010.5 186.5L1010.5 566.5" fill="none"/>
<path d="M1010.3 376.5L1021.8 471.5" fill="none"/>
<path d="M1045.5 471.5L1045.5 585.5" fill="none"/>
<path d="M1056.5 566.5L1056.5 414.5" fill="none"/>
<path d="M1068.5 205.5L1068.5 433.5" fill="none"/>
<path d="M1068.5 509.5L1068.5 642.5" fill="none"/>
<path d="M1091.5 433.5L1091.5 300.5" fill="none"/>
<path d="M1097.5 585.5L1097.5 433.5" fill="none"/>
<path d="M1101.5 300.5L1101.5 205.5" fill="none"/>
<path d="M1103.5 642.5L1103.5 167.5" fill="none"/>
<path d="M1103.5 642.5L1103.5 224.5" fill="none"/>
<path d="M1103.5 642.5L1103.5 243.5" fill="none"/>
<path d="M1103.5 642.5L1103.5 357.5" fill="none"/>
<path d="M1115.5 167.5L1115.5 186.5" fill="none"/>
<path d="M1114.5 224.5L1114.5 281.5" fill="none"/>
<path d="M1114.5 357.5L1114.5 376.5" fill="none"/>
<path d="M1115.5 357.5L1115.5 262.5" fill="none"/>
<path d="M1126.5 186.5L1126.5 395.5" fill="none"/>
<path d="M1126.5 186.5L1126.5 547.5" fill="none"/>
<path d="M1125.5 376.5L1125.5 338.5" fill="none"/>
<path d="M1136.5 281.5L1136.5 414.5" fill="none"/>
<path d="M1142.5 414.5L1142.5 642.5" fill="none"/>
<path d="M1147.5 547.5L1147.5 205.5" fill="none"/>
<path d="M1146.5 338.5L1146.5 433.5" fill="none"/>
<path d="M1146.5 338.5L1146.5 509.5" fill="none"/>
<path d="M1161.5 642.5L1161.5 566.5" fill="none"/>
<path d="M1172.5 433.5L1172.5 471.5" fill="none"/>
<path d="M1206.5 471.5L1206.5 300.5" fill="none"/>
<path d="M1216.5 300.5L1216.5 471.5" fill="none"/>
<path d="M1218.5 566.5L1218.5 167.5" fill="none"/>
<path d="M1218.5 566.5L1218.5 243.5" fill="none"/>
<path d="M1218.5 566.5L1218.5 357.5" fill="none"/>
<path d="M1218.5 205.5L1218.5 224.5" fill="none"/>
<path d="M1229.5 167.5L1229.5 186.5" fill="none"/>
<path d="M1229.5 243.5L1229.5 262.5" fill="none"/>
<path d="M1230.5 224.5L1230.5 205.5" fill="none"/>
<path d="M1241.5 376.5L1241.5 205.5" fill="none"/>
<path d="M1241.5 186.5L1241.5 528.5" fill="none"/>
<path d="M1241.5 186.5L1241.5 756.5" fill="none"/>
<path d="M1252.5 205.5L1252.5 737.5" fill="none"/>
<path d="M1263.5 832.5L1263.5 661.5" fill="none"/>
<path d="M1263.5 756.5L1263.5 813.5" fill="none"/>
<path d="M1274.5 528.5L1274.5 832.5" fill="none"/>
<path d="M1284.5 737.5L1284.5 756.5" fill="none"/>
<path d="M1295.5 661.5L1295.5 319.5" fill="none"/>
<path d="M1295.5 813.5L1295.5 680.5" fill="none"/>
<path d="M1321.5 319.5L1321.5 300.5" fill="none"/>
<path d="M1331.5 300.5L1331.5 319.5" fill="none"/>
<path d="M1333.5 756.5L1333.5 167.5" fill="none"/>
<path d="M1332.5 756.5L1332.5 243.5" fill="none"/>
<path d="M1333.5 243.5L1333.5 357.5" fill="none"/>
<path d="M1344.5 167.5L1344.5 262.5" fill="none"/>
<path d="M1345.5 167.5L1345.5 281.5" fill="none"/>
<path d="M1345.5 357.5L1345.5 376.5" fill="none"/>
<path d="M1356.5 186.5L1356.5 338.5" fill="none"/>
<path d="M1356.5 186.5L1356.5 395.5" fill="none"/>
<path d="M1356.5 186.5L1356.5 547.5" fill="none"/>
<path d="M1367.5 281.5L1367.5 832.5" fill="none"/>
<path d="M1370.5 832.5L1370.5 756.5" fill="none"/>
<path d="M1377.5 338.5L1377.5 319.5" fill="none"/>
<path d="M1377.5 338.5L1377.5 604.5" fill="none"/>
<path d="M1376.5 338.5L1376.5 680.5" fill="none"/>
<path d="M1384.5 756.5L1384.5 718.5" fill="none"/>
<path d="M1423.5 680.5L1423.5 699.5" fill="none"/>
<path d="M1434.5 319.5L1434.5 205.5" fill="none"/>
<path d="M1436.5 205.5L1436.5 300.5" fill="none"/>
<path d="M1446.5 300.5L1446.5 205.5" fill="none"/>
<path d="M1447.5 718.5L1447.5 167.5" fill="none"/>
<path d="M1448.5 718.5L1448.5 224.5" fill="none"/>
<path d="M1448.5 718.5L1448.5 243.5" fill="none"/>
<path d="M1448.5 205.5L1448.5 357.5" fill="none"/>
<path d="M1459.5 224.5L1459.5 262.5" fill="none"/>
<path d="M1460.5 224.5L1460.5 604.5" fill="none"/>
<path d="M1470.5 186.5L1470.5 699.5" fill="none"/>
<path d="M1470.5 186.5L1470.5 718.5" fill="none"/>
</g><g fill="#000">
<path d="M401.8 301.2L405.4 311.5L397.6 311.3Z"/>
<path d="M404.5 851.3L400.6 841.1L408.4 841.1Z"/>
<path d="M404.5 320.2L408.4 330.4L400.6 330.4Z"/>
<path d="M411.5 490.3L407.6 480.1L415.4 480.1Z"/>
<path d="M413.5 168.2L417.4 178.4L409.6 178.4Z"/>
<path d="M413.5 244.2L417.4 254.4L409.6 254.4Z"/>
<path d="M413.5 358.2L417.4 368.4L409.6 368.4Z"/>
<path d="M424.5 376.3L420.6 366.1L428.4 366.1Z"/>
<path d="M425.5 262.3L421.6 252.1L429.4 252.1Z"/>
<path d="M425.5 187.2L429.4 197.4L421.6 197.4Z"/>
<path d="M435.5 338.3L431.6 328.1L439.4 328.1Z"/>
<path d="M435.5 395.3L431.6 385.1L439.4 385.1Z"/>
<path d="M435.5 547.3L431.6 537.1L439.4 537.1Z"/>
<path d="M447.5 680.3L443.6 670.1L451.4 670.1Z"/>
<path d="M451.5 320.2L455.4 330.4L447.6 330.4Z"/>
<path d="M456.5 491.2L460.4 501.4L452.6 501.4Z"/>
<path d="M456.5 851.3L452.6 841.1L460.4 841.1Z"/>
<path d="M457.5 794.3L453.6 784.1L461.4 784.1Z"/>
<path d="M470.5 586.2L474.4 596.4L466.6 596.4Z"/>
<path d="M478.5 795.2L482.4 805.4L474.6 805.4Z"/>
<path d="M481.5 794.3L477.6 784.1L485.4 784.1Z"/>
<path d="M481.5 415.2L485.4 425.4L477.6 425.4Z"/>
<path d="M493.5 434.2L497.4 444.4L489.6 444.4Z"/>
<path d="M493.5 643.2L497.4 653.4L489.6 653.4Z"/>
<path d="M516.5 301.2L520.4 311.4L512.6 311.4Z"/>
<path d="M522.5 434.2L526.4 444.4L518.6 444.4Z"/>
<path d="M528.5 168.2L532.4 178.4L524.6 178.4Z"/>
<path d="M528.5 225.2L532.4 235.4L524.6 235.4Z"/>
<path d="M527.5 244.2L531.4 254.4L523.6 254.4Z"/>
<path d="M528.5 358.2L532.4 368.4L524.6 368.4Z"/>
<path d="M527.5 490.3L523.6 480.1L531.4 480.1Z"/>
<path d="M539.5 186.3L535.6 176.1L543.4 176.1Z"/>
<path d="M539.5 376.3L535.6 366.1L543.4 366.1Z"/>
<path d="M540.5 414.3L536.6 404.1L544.4 404.1Z"/>
<path d="M546.5 642.3L542.6 632.1L550.4 632.1Z"/>
<path d="M550.5 433.3L546.6 423.1L554.4 423.1Z"/>
<path d="M550.5 490.3L546.6 480.1L554.4 480.1Z"/>
<path d="M551.5 529.2L555.4 539.4L547.6 539.4Z"/>
<path d="M550.5 794.3L546.6 784.1L554.4 784.1Z"/>
<path d="M562.5 737.3L558.6 727.1L566.4 727.1Z"/>
<path d="M565.5 491.2L569.4 501.4L561.6 501.4Z"/>
<path d="M573.5 661.3L569.6 651.1L577.4 651.1Z"/>
<path d="M573.5 813.3L569.6 803.1L577.4 803.1Z"/>
<path d="M583.5 434.2L587.4 444.4L579.6 444.4Z"/>
<path d="M586.5 490.3L582.6 480.1L590.4 480.1Z"/>
<path d="M594.5 794.3L590.6 784.1L598.4 784.1Z"/>
<path d="M605.5 624.2L609.4 634.4L601.6 634.4Z"/>
<path d="M605.5 775.3L601.6 765.1L609.4 765.1Z"/>
<path d="M605.5 624.2L609.4 634.4L601.6 634.4Z"/>
<path d="M617.5 453.2L621.4 463.4L613.6 463.4Z"/>
<path d="M631.5 301.2L635.4 311.4L627.6 311.4Z"/>
<path d="M641.5 452.3L637.6 442.1L645.4 442.1Z"/>
<path d="M643.5 168.2L647.4 178.4L639.6 178.4Z"/>
<path d="M643.5 244.2L647.4 254.4L639.6 254.4Z"/>
<path d="M643.5 358.2L647.4 368.4L639.6 368.4Z"/>
<path d="M654.5 187.2L658.4 197.4L650.6 197.4Z"/>
<path d="M655.5 262.3L651.6 252.1L659.4 252.1Z"/>
<path d="M655.5 282.2L659.4 292.4L651.6 292.4Z"/>
<path d="M654.5 376.3L650.6 366.1L658.4 366.1Z"/>
<path d="M665.5 338.3L661.6 328.1L669.4 328.1Z"/>
<path d="M665.5 395.3L661.6 385.1L669.4 385.1Z"/>
<path d="M665.5 547.3L661.6 537.1L669.4 537.1Z"/>
<path d="M677.5 794.3L673.6 784.1L681.4 784.1Z"/>
<path d="M687.5 452.3L683.6 442.1L691.4 442.1Z"/>
<path d="M686.5 623.3L682.6 613.1L690.4 613.1Z"/>
<path d="M686.5 775.3L682.6 765.1L690.4 765.1Z"/>
<path d="M691.5 206.2L695.4 216.4L687.6 216.4Z"/>
<path d="M701.5 510.2L705.4 520.4L697.6 520.4Z"/>
<path d="M746.5 301.2L750.4 311.4L742.6 311.4Z"/>
<path d="M757.5 509.3L753.6 499.1L761.4 499.1Z"/>
<path d="M758.5 168.2L762.4 178.4L754.6 178.4Z"/>
<path d="M758.5 225.2L762.4 235.4L754.6 235.4Z"/>
<path d="M758.5 244.2L762.4 254.4L754.6 254.4Z"/>
<path d="M757.5 358.2L761.4 368.4L753.6 368.4Z"/>
<path d="M769.5 623.3L765.6 613.1L773.4 613.1Z"/>
<path d="M769.5 262.3L765.6 252.1L773.4 252.1Z"/>
<path d="M768.5 377.2L772.4 387.4L764.6 387.4Z"/>
<path d="M769.5 187.2L773.4 197.4L765.6 197.4Z"/>
<path d="M772.5 453.2L776.4 463.4L768.6 463.4Z"/>
<path d="M780.5 509.3L776.6 499.1L784.4 499.1Z"/>
<path d="M780.5 206.2L784.4 216.4L776.6 216.4Z"/>
<path d="M861.8 300.3L850.9 299.5L854.2 292.4Z"/>
<path d="M872.3 168.2L876 178.5L868.2 178.3Z"/>
<path d="M873.5 358.2L877.4 368.4L869.6 368.4Z"/>
<path d="M873.5 244.2L877.4 254.4L869.6 254.4Z"/>
<path d="M884.5 186.3L880.6 176.1L888.4 176.1Z"/>
<path d="M884.5 262.3L880.6 252.1L888.4 252.1Z"/>
<path d="M885.5 281.3L881.6 271.1L889.4 271.1Z"/>
<path d="M884.5 376.3L880.6 366.1L888.4 366.1Z"/>
<path d="M895.5 338.3L891.6 328.1L899.4 328.1Z"/>
<path d="M895.5 395.3L891.6 385.1L899.4 385.1Z"/>
<path d="M907.5 528.3L903.6 518.1L911.4 518.1Z"/>
<path d="M918.5 206.2L922.4 216.4L914.6 216.4Z"/>
<path d="M917.5 510.2L921.4 520.4L913.6 520.4Z"/>
<path d="M918.5 661.3L914.6 651.1L922.4 651.1Z"/>
<path d="M917.5 737.3L913.6 727.1L921.4 727.1Z"/>
<path d="M918.5 813.3L914.6 803.1L922.4 803.1Z"/>
<path d="M939.5 206.2L943.4 216.4L935.6 216.4Z"/>
<path d="M948.5 510.2L952.4 520.4L944.6 520.4Z"/>
<path d="M953.1 567.2L956.8 577.5L949 577.3Z"/>
<path d="M976.5 301.2L979.9 311.6L972.1 311.2Z"/>
<path d="M987.9 244.2L991.6 254.5L983.8 254.3Z"/>
<path d="M987.5 358.2L991.4 368.4L983.6 368.4Z"/>
<path d="M988.5 168.2L992.4 178.4L984.6 178.4Z"/>
<path d="M988.5 224.3L984.6 214.1L992.4 214.1Z"/>
<path d="M999.5 376.3L995.6 366.1L1003.4 366.1Z"/>
<path d="M999.5 187.2L1003.4 197.4L995.6 197.4Z"/>
<path d="M1000.5 206.2L1004.4 216.4L996.6 216.4Z"/>
<path d="M1010.5 509.3L1006.6 499.1L1014.4 499.1Z"/>
<path d="M1010.5 566.3L1006.6 556.1L1014.4 556.1Z"/>
<path d="M1021.8 471.3L1016.7 461.6L1024.4 460.7Z"/>
<path d="M1045.5 585.3L1041.6 575.1L1049.4 575.1Z"/>
<path d="M1056.5 415.2L1060.4 425.4L1052.6 425.4Z"/>
<path d="M1068.5 433.3L1064.6 423.1L1072.4 423.1Z"/>
<path d="M1068.5 642.3L1064.6 632.1L1072.4 632.1Z"/>
<path d="M1091.5 301.2L1095.4 311.4L1087.6 311.4Z"/>
<path d="M1097.5 434.2L1101.4 444.4L1093.6 444.4Z"/>
<path d="M1101.5 206.2L1105.4 216.4L1097.6 216.4Z"/>
<path d="M1103.5 168.2L1107.4 178.4L1099.6 178.4Z"/>
<path d="M1103.5 225.2L1107.4 235.4L1099.6 235.4Z"/>
<path d="M1103.5 244.2L1107.4 254.4L1099.6 254.4Z"/>
<path d="M1103.5 358.2L1107.4 368.4L1099.6 368.4Z"/>
<path d="M1115.5 186.3L1111.6 176.1L1119.4 176.1Z"/>
<path d="M1114.5 281.3L1110.6 271.1L1118.4 271.1Z"/>
<path d="M1114.5 376.3L1110.6 366.1L1118.4 366.1Z"/>
<path d="M1115.5 263.2L1119.4 273.4L1111.6 273.4Z"/>
<path d="M1126.5 395.3L1122.6 385.1L1130.4 385.1Z"/>
<path d="M1126.5 547.3L1122.6 537.1L1130.4 537.1Z"/>
<path d="M1125.5 339.2L1129.4 349.4L1121.6 349.4Z"/>
<path d="M1136.5 414.3L1132.6 404.1L1140.4 404.1Z"/>
<path d="M1142.5 642.3L1138.6 632.1L1146.4 632.1Z"/>
<path d="M1147.5 206.2L1151.4 216.4L1143.6 216.4Z"/>
<path d="M1146.5 433.3L1142.6 423.1L1150.4 423.1Z"/>
<path d="M1146.5 509.3L1142.6 499.1L1150.4 499.1Z"/>
<path d="M1161.5 567.2L1165.4 577.4L1157.6 577.4Z"/>
<path d="M1172.5 471.3L1168.6 461.1L1176.4 461.1Z"/>
<path d="M1206.5 301.2L1210.4 311.4L1202.6 311.4Z"/>
<path d="M1216.5 471.3L1212.6 461.1L1220.4 461.1Z"/>
<path d="M1218.5 168.2L1222.4 178.4L1214.6 178.4Z"/>
<path d="M1218.5 244.2L1222.4 254.4L1214.6 254.4Z"/>
<path d="M1218.5 358.2L1222.4 368.4L1214.6 368.4Z"/>
<path d="M1218.5 224.3L1214.6 214.1L1222.4 214.1Z"/>
<path d="M1229.5 186.3L1225.6 176.1L1233.4 176.1Z"/>
<path d="M1229.5 262.3L1225.6 252.1L1233.4 252.1Z"/>
<path d="M1230.5 206.2L1234.4 216.4L1226.6 216.4Z"/>
<path d="M1241.5 206.2L1245.4 216.4L1237.6 216.4Z"/>
<path d="M1241.5 528.3L1237.6 518.1L1245.4 518.1Z"/>
<path d="M1241.5 756.3L1237.6 746.1L1245.4 746.1Z"/>
<path d="M1252.5 737.3L1248.6 727.1L1256.4 727.1Z"/>
<path d="M1263.5 662.2L1267.4 672.4L1259.6 672.4Z"/>
<path d="M1263.5 813.3L1259.6 803.1L1267.4 803.1Z"/>
<path d="M1274.5 832.3L1270.6 822.1L1278.4 822.1Z"/>
<path d="M1284.5 756.3L1280.6 746.1L1288.4 746.1Z"/>
<path d="M1295.5 320.2L1299.4 330.4L1291.6 330.4Z"/>
<path d="M1295.5 681.2L1299.4 691.4L1291.6 691.4Z"/>
<path d="M1321.5 301.2L1325.4 311.4L1317.6 311.4Z"/>
<path d="M1331.5 319.3L1327.6 309.1L1335.4 309.1Z"/>
<path d="M1333.5 168.2L1337.4 178.4L1329.6 178.4Z"/>
<path d="M1332.5 244.2L1336.4 254.4L1328.6 254.4Z"/>
<path d="M1333.5 357.3L1329.6 347.1L1337.4 347.1Z"/>
<path d="M1344.5 262.3L1340.6 252.1L1348.4 252.1Z"/>
<path d="M1345.5 281.3L1341.6 271.1L1349.4 271.1Z"/>
<path d="M1345.5 376.3L1341.6 366.1L1349.4 366.1Z"/>
<path d="M1356.5 338.3L1352.6 328.1L1360.4 328.1Z"/>
<path d="M1356.5 395.3L1352.6 385.1L1360.4 385.1Z"/>
<path d="M1356.5 547.3L1352.6 537.1L1360.4 537.1Z"/>
<path d="M1367.5 832.3L1363.6 822.1L1371.4 822.1Z"/>
<path d="M1370.5 757.2L1374.4 767.4L1366.6 767.4Z"/>
<path d="M1377.5 320.2L1381.4 330.4L1373.6 330.4Z"/>
<path d="M1377.5 604.3L1373.6 594.1L1381.4 594.1Z"/>
<path d="M1376.5 680.3L1372.6 670.1L1380.4 670.1Z"/>
<path d="M1384.5 719.2L1388.4 729.4L1380.6 729.4Z"/>
<path d="M1423.5 699.3L1419.6 689.1L1427.4 689.1Z"/>
<path d="M1434.5 206.2L1438.4 216.4L1430.6 216.4Z"/>
<path d="M1436.5 300.3L1432.6 290.1L1440.4 290.1Z"/>
<path d="M1446.5 206.2L1450.4 216.4L1442.6 216.4Z"/>
<path d="M1447.5 168.2L1451.4 178.4L1443.6 178.4Z"/>
<path d="M1448.5 225.2L1452.4 235.4L1444.6 235.4Z"/>
<path d="M1448.5 244.2L1452.4 254.4L1444.6 254.4Z"/>
<path d="M1448.5 357.3L1444.6 347.1L1452.4 347.1Z"/>
<path d="M1459.5 262.3L1455.6 252.1L1463.4 252.1Z"/>
<path d="M1460.5 604.3L1456.6 594.1L1464.4 594.1Z"/>
<path d="M1470.5 699.3L1466.6 689.1L1474.4 689.1Z"/>
<path d="M1470.5 718.3L1466.6 708.1L1474.4 708.1Z"/>
<path d="M424.5 281.3L428.4 271.1L420.6 271.1Z"/>
</g>
<rect x="872.3" y="942" width="1" height="8" fill="#c8007a"/>
<rect x="987.5" y="980" width="1" height="8" fill="#c8007a"/>
</g>
<rect x="377" y="1013" width="1151" height="1" fill="#c2c2c2"/>
<rect x="377" y="1014" width="1151" height="17" fill="#eff0f1"/>
<rect x="1528" y="139" width="18" height="875" fill="#eff0f1"/>
<rect x="1533.5" y="143.5" width="8" height="866" rx="4" fill="#c9cbcb" stroke="#a9abab"/>
<rect x="989.5" y="1018.5" width="418" height="8" rx="4" fill="#c9cbcb" stroke="#a9abab"/>
<defs><linearGradient id="yg" x1="0" y1="0" x2="0" y2="1"><stop offset="0" stop-color="#fff3c4"/><stop offset="1" stop-color="#f6b83c"/></linearGradient><radialGradient id="lens" cx=".4" cy=".35" r=".7"><stop offset="0" stop-color="#fff"/><stop offset="1" stop-color="#cfe0f0"/></radialGradient></defs>
<g stroke-linecap="round" fill="none"><path d="M79 57.5L79 65" stroke="#3aa6d8" stroke-width="1.6"/><path d="M79 69L79 76.5" stroke="#2c5e9e" stroke-width="1.8"/><path d="M69.5 67L77 67" stroke="#2aa9d6" stroke-width="1.8"/><path d="M81 67L88.5 67" stroke="#9fb4c4" stroke-width="1.6"/><path d="M73.5 61.5L77.5 65.5" stroke="#22b4ee" stroke-width="1.8"/><path d="M84 62L80.5 65.5" stroke="#5fb4dc" stroke-width="1.4"/><path d="M74 72L77.5 68.5" stroke="#2a8fd0" stroke-width="1.6"/><path d="M84 72L80.5 68.5" stroke="#b8c4cc" stroke-width="1.4"/><circle cx="79" cy="67" r="2" stroke="#29b4ea" stroke-width="1.3" fill="#3a4852"/></g>
<g transform="translate(103.3,66.7) rotate(45)" fill="#fff"><rect x="-2.2" y="-6.6" width="4.4" height="5.6" rx="0.5"/><rect x="-3.3" y="-1.3" width="6.6" height="1.5"/><rect x="-0.55" y="0" width="1.1" height="7.4"/></g>
<g stroke="#fff" stroke-width="1.2" fill="none" stroke-linecap="round" stroke-linejoin="round"><path d="M1479 65L1484.2 70.2L1489.4 65"/><path d="M1503 69.5L1508.3 64.2L1513.6 69.5"/><path d="M1528.2 63.2L1536.2 71.2M1536.2 63.2L1528.2 71.2"/></g>
<g fill="#e8f0fa" stroke="#2565ae" stroke-width="1"><rect x="71.5" y="89.5" width="7" height="2"/><rect x="71.5" y="94.5" width="7" height="2.4"/><rect x="71.5" y="99.8" width="7" height="2"/></g><path d="M78.5 90.5H81V100.8H78.5M78.5 95.7H84.5" stroke="#4a78b0" stroke-width="1" fill="none"/><path d="M83 93L86 95.7L83 98.4Z" fill="#3a5f90"/>
<path d="M173.3 92.3L181.9 100.9M181.9 92.3L173.3 100.9" stroke="#333" stroke-width="1.1" fill="none"/>
<path d="M71.2 143.8H78.8L75 151.4Z" fill="#7b7d7e"/>
<g fill="#b9b6b2">
<rect x="958.0" y="85" width="1" height="22"/>
<rect x="1031.0" y="85" width="1" height="22"/>
<rect x="1103.9" y="85" width="1" height="22"/>
<rect x="1198.8" y="85" width="1" height="22"/>
<rect x="1293.9" y="85" width="1" height="22"/>
<rect x="1411.2" y="85" width="1" height="22"/>
</g>
<g fill="none" stroke-width="1.5"><path d="M937.7 99.4V91.6H946" stroke="#0c9a30"/><path d="M937.7 99.4H948.5" stroke="#0c9a30"/><path d="M941.5 95.5H949.6V101.6H937" stroke="#ee1c25"/></g><path d="M945.5 88.6L950 91.6L945.5 94.6Z" fill="#0c9a30"/><path d="M942.8 92.8L938.6 95.5L942.8 98.2Z" fill="#ee1c25"/>
<rect x="967" y="90" width="12" height="1.6" fill="#1f5fa6"/><rect x="967" y="93.6" width="12" height="3" fill="#bfc3bf"/><rect x="967" y="97.8" width="12" height="3" fill="#bfc3bf"/><path d="M970 94L976 101M976 94L970 101" stroke="#e8242c" stroke-width="1.3"/>
<g stroke="#44546a" stroke-width="1.1" fill="none"><path d="M988 90.5H994M992 88.5L994.3 90.5L992 92.5M996.5 88V93"/><path d="M988 100.7H994M992 98.7L994.3 100.7L992 102.7M996.5 98.2V103.2"/></g>
<polygon points="991.0,93.9 997.0,93.9 997.0,91.5 1003.0,95.5 997.0,99.5 997.0,97.1 991.0,97.1" fill="url(#yg)" stroke="#c48a12" stroke-width="1" stroke-linejoin="round"/>
<path d="M1013.4 90L1015.2 92.8H1011.6Z" fill="#2f6fc0"/><rect x="1012" y="94" width="3" height="3" fill="#f08080" stroke="#d04040" stroke-width=".6"/><circle cx="1013.5" cy="99.8" r="1.6" fill="#58b878" stroke="#2a8a4a" stroke-width=".6"/><g fill="#4a78c0"><rect x="1017" y="91" width="7.2" height="1.2"/><rect x="1017" y="95" width="7.2" height="1.2"/><rect x="1017" y="99.2" width="7.2" height="1.2"/></g>
<rect x="1042" y="88.4" width="1.6" height="3" fill="#b03a2e"/><rect x="1042.2" y="93.5" width="9" height="8.8" fill="#eef4fb" stroke="#3a6cb4" stroke-width="1"/><path d="M1040.4 94.6L1046.7 88.2L1053 94.6" fill="none" stroke="#c9a878" stroke-width="1.8" stroke-linejoin="miter"/><rect x="1045.6" y="97.6" width="2.2" height="4.6" fill="#b8c83a" stroke="#2a4a8a" stroke-width=".6"/><rect x="1045.7" y="94" width="2" height="2" fill="#5a8ad0"/>
<rect x="1060" y="90" width="5" height="8" fill="#0a0ae6"/><rect x="1060" y="90" width="16" height="1.2" fill="#5a5a5a"/><rect x="1065" y="93.2" width="11" height="1" fill="#c9c9c9"/><rect x="1065" y="96.2" width="11" height="1" fill="#c9c9c9"/>
<polygon points="1076.0,98.0 1070.5,98.0 1070.5,95.5 1065.0,99.8 1070.5,104.0 1070.5,101.5 1076.0,101.5" fill="url(#yg)" stroke="#c48a12" stroke-width="1" stroke-linejoin="round"/>
<rect x="1093" y="90" width="5" height="8" fill="#0a0ae6"/><rect x="1082" y="90" width="16" height="1.2" fill="#5a5a5a"/><rect x="1082" y="93.2" width="11" height="1" fill="#c9c9c9"/><rect x="1082" y="96.2" width="11" height="1" fill="#c9c9c9"/>
<polygon points="1087.0,98.0 1092.5,98.0 1092.5,95.5 1098.0,99.8 1092.5,104.0 1092.5,101.5 1087.0,101.5" fill="url(#yg)" stroke="#c48a12" stroke-width="1" stroke-linejoin="round"/>
<g opacity="1"><path d="M1113.5 89L1116.0 100" stroke="#a08040" stroke-width="1.3" fill="none"/><path d="M1113.7 89.5L1122.5 92L1115.0 95.5Z" fill="#f7d64a" stroke="#c9a227" stroke-width=".8"/></g>
<path d="M1121 95.2h3v2.8h2.8v3h-2.8v2.8h-3v-2.8h-2.8v-3h2.8z" fill="#9ccc4a" stroke="#2e8b45" stroke-width=".9"/>
<g opacity="0.4"><path d="M1136 89L1138.5 100" stroke="#a08040" stroke-width="1.3" fill="none"/><path d="M1136.2 89.5L1145 92L1137.5 95.5Z" fill="#f7d64a" stroke="#c9a227" stroke-width=".8"/></g>
<g opacity=".45"><polygon points="1149.0,98.0 1143.5,98.0 1143.5,95.5 1138.0,99.8 1143.5,104.0 1143.5,101.5 1149.0,101.5" fill="url(#yg)" stroke="#c48a12" stroke-width="1" stroke-linejoin="round"/></g>
<g opacity="0.4"><path d="M1158 89L1160.5 100" stroke="#a08040" stroke-width="1.3" fill="none"/><path d="M1158.2 89.5L1167 92L1159.5 95.5Z" fill="#f7d64a" stroke="#c9a227" stroke-width=".8"/></g>
<g opacity=".45"><polygon points="1160.0,98.0 1165.5,98.0 1165.5,95.5 1171.0,99.8 1165.5,104.0 1165.5,101.5 1160.0,101.5" fill="url(#yg)" stroke="#c48a12" stroke-width="1" stroke-linejoin="round"/></g>
<path d="M1180 94H1190L1185 99.4Z" fill="#1a1a1a"/>
<polygon points="1211.7,102.3 1211.7,95.7 1208.0,95.7 1214.1,89.0 1220.2,95.7 1216.5,95.7 1216.5,102.3" fill="url(#yg)" stroke="#c48a12" stroke-width="1" stroke-linejoin="round"/>
<polygon points="1233.5,89.0 1233.5,95.7 1229.8,95.7 1235.9,102.3 1242.0,95.7 1238.3,95.7 1238.3,89.0" fill="url(#yg)" stroke="#c48a12" stroke-width="1" stroke-linejoin="round"/>
<path d="M1259.5 97.2L1264.8999999999999 102.8" stroke="#7a4a3a" stroke-width="1.7" stroke-linecap="round"/><circle cx="1256.3" cy="94" r="4.6" fill="url(#lens)" stroke="#aab4c0" stroke-width="1"/>
<rect x="1253.3" y="93.1" width="6" height="1.9" fill="#1558b0"/>
<rect x="1255.35" y="91" width="1.9" height="6" fill="#1558b0"/>
<path d="M1281.7 97.2L1287.1 102.8" stroke="#7a4a3a" stroke-width="1.7" stroke-linecap="round"/><circle cx="1278.5" cy="94" r="4.6" fill="url(#lens)" stroke="#aab4c0" stroke-width="1"/>
<rect x="1275.5" y="93.1" width="6" height="1.9" fill="#1558b0"/>
<g stroke="#6a6a6a" stroke-width="1.4" fill="#6a6a6a"><path d="M1305 91V100" /><path d="M1312.5 91V100"/></g><path d="M1302.6 99L1305 102.6L1307.4 99ZM1310.1 92L1312.5 88.4L1314.9 92ZM1310.1 99L1312.5 102.6L1314.9 99ZM1302.6 92L1305 88.4L1307.4 92Z" fill="#6a6a6a"/><path d="M1301.2 88.2L1316.8 103" stroke="#1f3fa8" stroke-width="1.4"/>
<path d="M1325.5 103.5V98M1323.6 99.8L1325.5 97L1327.4 99.8" stroke="#3a3a3a" stroke-width="1.1" fill="none"/>
<polygon points="1339.2,94.0 1333.6,94.0 1333.6,91.5 1328.0,95.8 1333.6,100.0 1333.6,97.5 1339.2,97.5" fill="url(#yg)" stroke="#c48a12" stroke-width="1" stroke-linejoin="round"/>
<polygon points="1346.0,95.0 1351.6,95.0 1351.6,92.5 1357.2,96.8 1351.6,101.0 1351.6,98.5 1346.0,98.5" fill="url(#yg)" stroke="#c48a12" stroke-width="1" stroke-linejoin="round"/>
<path d="M1359 96.5V90M1357.1 92L1359 89.2L1360.9 92" stroke="#3a3a3a" stroke-width="1.1" fill="none"/>
<rect x="1368.2" y="90" width="1.8" height="12" fill="#4a7ac8"/>
<polygon points="1383.0,94.2 1377.0,94.2 1377.0,91.5 1371.0,96.0 1377.0,100.5 1377.0,97.8 1383.0,97.8" fill="url(#yg)" stroke="#c48a12" stroke-width="1" stroke-linejoin="round"/>
<polygon points="1390.2,94.2 1396.2,94.2 1396.2,91.5 1402.2,96.0 1396.2,100.5 1396.2,97.8 1390.2,97.8" fill="url(#yg)" stroke="#c48a12" stroke-width="1" stroke-linejoin="round"/>
<rect x="1403.7" y="90" width="1.8" height="12" fill="#4a7ac8"/>
<rect x="1420.4" y="93.2" width="11.2" height="9" fill="#edf3fc" stroke="#5a8ad0" stroke-width="1"/><rect x="1420.4" y="93.2" width="11.2" height="2.2" fill="#2f6db5"/><path d="M1424 90.5H1430" stroke="#2a7a3a" stroke-width="1.2"/><path d="M1430.6 88.2h1.8v1.6h1.6v1.8h-1.6v1.6h-1.8v-1.6h-1.6v-1.8h1.6z" fill="#58c85a" stroke="#1e8a3a" stroke-width=".7"/>
<path d="M1442.6 93.6H1453L1447.8 99.2Z" fill="#1a1a1a"/>
<g fill="#f4f4f4" stroke="#555" stroke-width="1"><circle cx="1477.5" cy="91.2" r="1.9"/><circle cx="1477.5" cy="96.4" r="1.9"/><circle cx="1477.5" cy="101.6" r="1.9"/></g>
<rect x="1501.3" y="91.4" width="9.6" height="3.4" fill="#fdfdfd" stroke="#1a1a1a" stroke-width="1.1"/>
<rect x="1523.5" y="91.5" width="9.2" height="9.2" fill="none" stroke="#1a1a1a" stroke-width="1.1"/><rect x="1523.5" y="93" width="9.2" height="1" fill="#1a1a1a"/>
</svg>
</body></html>
